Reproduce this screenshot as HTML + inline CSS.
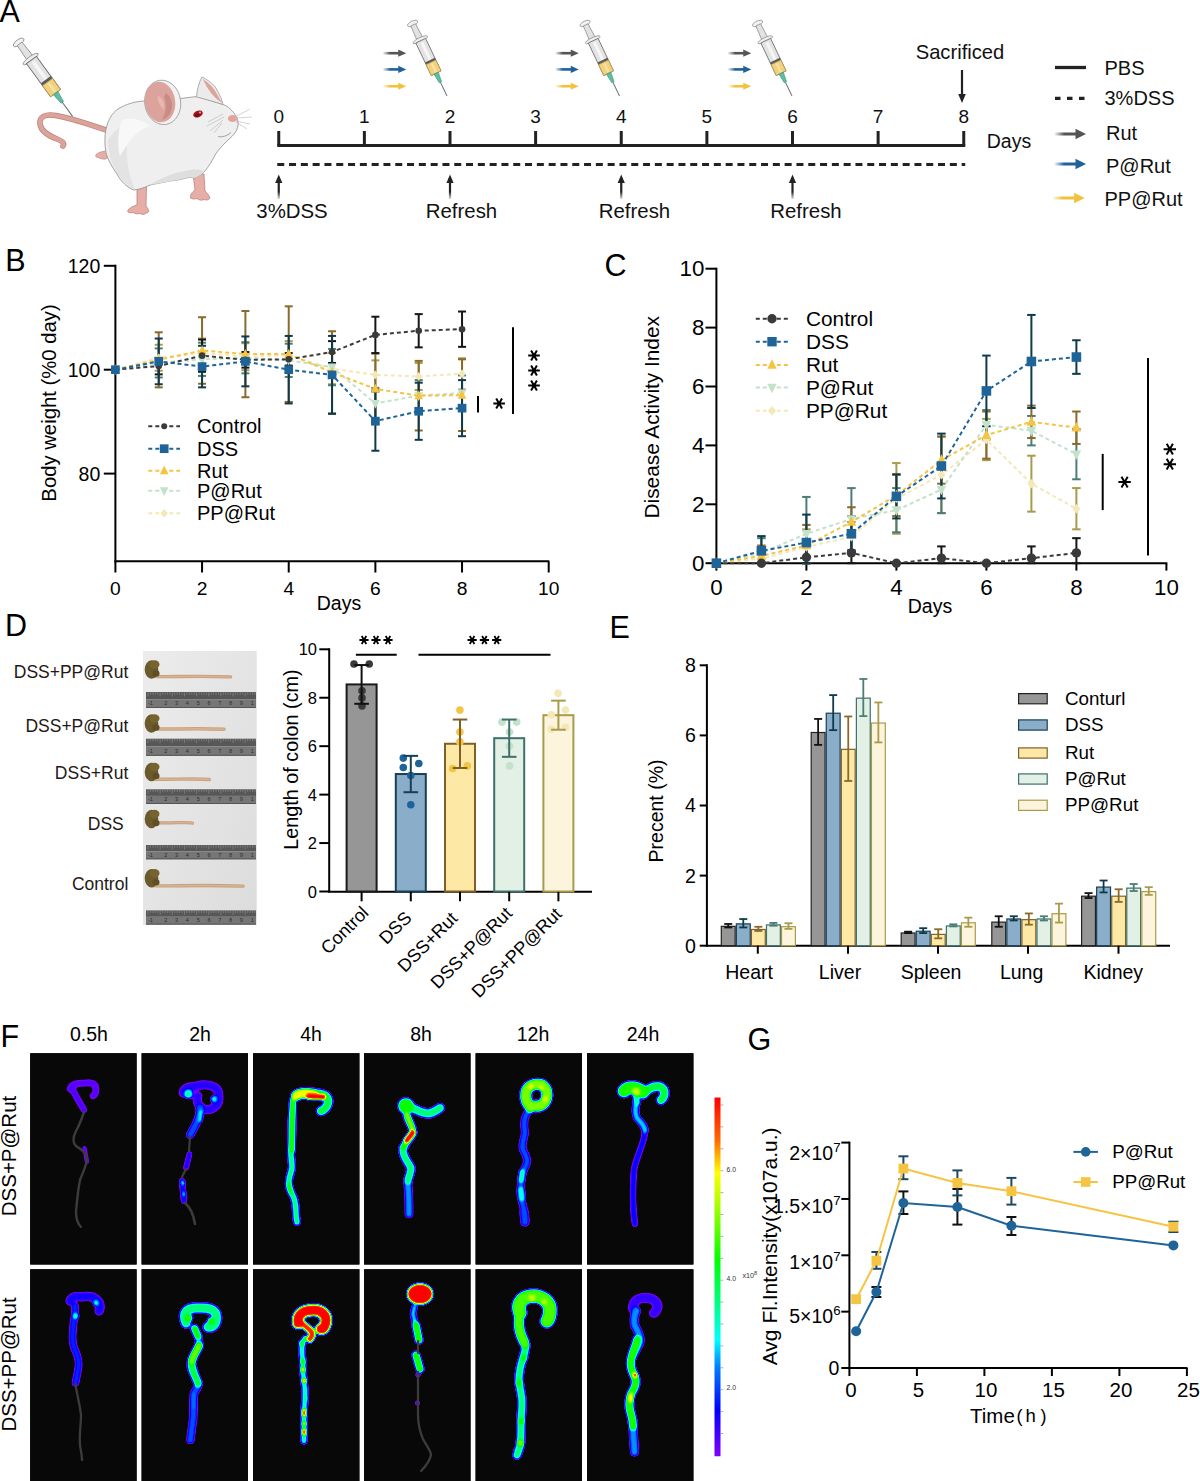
<!DOCTYPE html>
<html><head><meta charset="utf-8"><title>Figure</title>
<style>
html,body{margin:0;padding:0;background:#fff;width:1200px;height:1481px;overflow:hidden;}
svg{display:block;}
text{font-family:"Liberation Sans",sans-serif;}
</style></head><body>
<svg width="1200" height="1481" viewBox="0 0 1200 1481">
<rect x="0" y="0" width="1200" height="1481" fill="#fff"/>
<defs>
<linearGradient id="gGrey" x1="0" x2="1" y1="0" y2="0"><stop offset="0" stop-color="#555" stop-opacity="0"/><stop offset="0.45" stop-color="#555" stop-opacity="1"/></linearGradient>
<linearGradient id="gBlue" x1="0" x2="1" y1="0" y2="0"><stop offset="0" stop-color="#1f6198" stop-opacity="0"/><stop offset="0.45" stop-color="#1f6198" stop-opacity="1"/></linearGradient>
<linearGradient id="gYel" x1="0" x2="1" y1="0" y2="0"><stop offset="0" stop-color="#f0c23e" stop-opacity="0"/><stop offset="0.45" stop-color="#f0c23e" stop-opacity="1"/></linearGradient>
<linearGradient id="gArrowUp" x1="0" x2="0" y1="1" y2="0"><stop offset="0" stop-color="#222" stop-opacity="0.15"/><stop offset="0.4" stop-color="#222" stop-opacity="1"/></linearGradient>
<g id="syr">
<ellipse cx="0" cy="2" rx="5.5" ry="2.4" fill="#f2f2f2" stroke="#8a8a8a" stroke-width="0.7"/>
<path d="M-2.6,3.5 L2.6,3.5 L3.2,19 L-3.2,19 Z" fill="#e2e2e2" stroke="#8a8a8a" stroke-width="0.7"/>
<ellipse cx="0" cy="20" rx="8" ry="2.2" fill="#efefef" stroke="#8a8a8a" stroke-width="0.7"/>
<rect x="-5.4" y="21" width="10.8" height="36" fill="#e3e3e3" stroke="#6e6e6e" stroke-width="0.8"/>
<rect x="-1.2" y="23" width="3" height="32" fill="#f6f6f6"/>
<rect x="-5.4" y="42.5" width="10.8" height="2.6" fill="#5a5a5a"/>
<rect x="-5.4" y="45" width="10.8" height="12" fill="#f2d07c" stroke="#b09450" stroke-width="0.7"/>
<rect x="-1" y="46" width="2.5" height="10" fill="#f8e0a4"/>
<path d="M-2.4,57 L2.4,57 L1.3,67 L-1.3,67 Z" fill="#5cbfa2" stroke="#3a8a74" stroke-width="0.5"/>
<line x1="0" y1="67" x2="0" y2="82.3" stroke="#6a6a6a" stroke-width="0.9"/>
</g>
</defs>
<text x="-0.5" y="22.3" font-size="30.5" text-anchor="start" fill="#000" >A</text>
<line x1="277.25" y1="145.5" x2="965.25" y2="145.5" stroke="#222" stroke-width="3" />
<line x1="278.75" y1="131" x2="278.75" y2="145.5" stroke="#222" stroke-width="3" />
<text x="278.75" y="123.3" font-size="19" text-anchor="middle" fill="#111" >0</text>
<line x1="364.38" y1="131" x2="364.38" y2="145.5" stroke="#222" stroke-width="3" />
<text x="364.38" y="123.3" font-size="19" text-anchor="middle" fill="#111" >1</text>
<line x1="450" y1="131" x2="450" y2="145.5" stroke="#222" stroke-width="3" />
<text x="450" y="123.3" font-size="19" text-anchor="middle" fill="#111" >2</text>
<line x1="535.62" y1="131" x2="535.62" y2="145.5" stroke="#222" stroke-width="3" />
<text x="535.62" y="123.3" font-size="19" text-anchor="middle" fill="#111" >3</text>
<line x1="621.25" y1="131" x2="621.25" y2="145.5" stroke="#222" stroke-width="3" />
<text x="621.25" y="123.3" font-size="19" text-anchor="middle" fill="#111" >4</text>
<line x1="706.88" y1="131" x2="706.88" y2="145.5" stroke="#222" stroke-width="3" />
<text x="706.88" y="123.3" font-size="19" text-anchor="middle" fill="#111" >5</text>
<line x1="792.5" y1="131" x2="792.5" y2="145.5" stroke="#222" stroke-width="3" />
<text x="792.5" y="123.3" font-size="19" text-anchor="middle" fill="#111" >6</text>
<line x1="878.12" y1="131" x2="878.12" y2="145.5" stroke="#222" stroke-width="3" />
<text x="878.12" y="123.3" font-size="19" text-anchor="middle" fill="#111" >7</text>
<line x1="963.75" y1="131" x2="963.75" y2="145.5" stroke="#222" stroke-width="3" />
<text x="963.75" y="123.3" font-size="19" text-anchor="middle" fill="#111" >8</text>
<line x1="277.25" y1="164.5" x2="965.25" y2="164.5" stroke="#222" stroke-width="3" stroke-dasharray="7 4.8"/>
<rect x="277.65" y="181" width="2.2" height="18" fill="url(#gArrowUp)" stroke="none" stroke-width="0" />
<path d="M275.15,183 L278.75,174.5 L282.35,183 Z" fill="#222" stroke="none" stroke-width="0" />
<text x="292" y="217.6" font-size="20.4" text-anchor="middle" fill="#111" >3%DSS</text>
<rect x="448.9" y="181" width="2.2" height="18" fill="url(#gArrowUp)" stroke="none" stroke-width="0" />
<path d="M446.4,183 L450,174.5 L453.6,183 Z" fill="#222" stroke="none" stroke-width="0" />
<text x="461.5" y="217.6" font-size="20.4" text-anchor="middle" fill="#111" >Refresh</text>
<rect x="620.15" y="181" width="2.2" height="18" fill="url(#gArrowUp)" stroke="none" stroke-width="0" />
<path d="M617.65,183 L621.25,174.5 L624.85,183 Z" fill="#222" stroke="none" stroke-width="0" />
<text x="634.5" y="217.6" font-size="20.4" text-anchor="middle" fill="#111" >Refresh</text>
<rect x="791.4" y="181" width="2.2" height="18" fill="url(#gArrowUp)" stroke="none" stroke-width="0" />
<path d="M788.9,183 L792.5,174.5 L796.1,183 Z" fill="#222" stroke="none" stroke-width="0" />
<text x="806" y="217.6" font-size="20.4" text-anchor="middle" fill="#111" >Refresh</text>
<text x="960" y="58.8" font-size="20.2" text-anchor="middle" fill="#111" >Sacrificed</text>
<line x1="962" y1="70" x2="962" y2="96" stroke="#222" stroke-width="2.2" />
<path d="M958.2,94 L962,103 L965.8,94 Z" fill="#222" stroke="none" stroke-width="0" />
<text x="1009" y="147.5" font-size="19.5" text-anchor="middle" fill="#111" >Days</text>
<line x1="1055" y1="67.5" x2="1086" y2="67.5" stroke="#222" stroke-width="3.3" />
<text x="1104.5" y="75" font-size="20" text-anchor="start" fill="#111" >PBS</text>
<line x1="1055" y1="98.3" x2="1086" y2="98.3" stroke="#222" stroke-width="3.3" stroke-dasharray="5.5 6.5"/>
<text x="1104.5" y="105.3" font-size="20" text-anchor="start" fill="#111" >3%DSS</text>
<rect x="1054" y="132.5" width="22.5" height="3" fill="url(#gGrey)" stroke="none" stroke-width="0" />
<path d="M1075.5,128.7 L1086,134 L1075.5,139.3 Z" fill="#555" stroke="none" stroke-width="0" />
<text x="1106" y="139.7" font-size="20" text-anchor="start" fill="#111" >Rut</text>
<rect x="1054" y="162.5" width="22.5" height="3" fill="url(#gBlue)" stroke="none" stroke-width="0" />
<path d="M1075.5,158.7 L1086,164 L1075.5,169.3 Z" fill="#1f6198" stroke="none" stroke-width="0" />
<text x="1106" y="173.3" font-size="20" text-anchor="start" fill="#111" >P@Rut</text>
<rect x="1052" y="196.5" width="23.2" height="3" fill="url(#gYel)" stroke="none" stroke-width="0" />
<path d="M1074.2,192.7 L1084.7,198 L1074.2,203.3 Z" fill="#f0c23e" stroke="none" stroke-width="0" />
<text x="1104.5" y="206" font-size="20" text-anchor="start" fill="#111" >PP@Rut</text>
<rect x="382.5" y="51.9" width="16.75" height="2.6" fill="url(#gGrey)" stroke="none" stroke-width="0" />
<path d="M398.25,49.6 L406.25,53.2 L398.25,56.8 Z" fill="#555" stroke="none" stroke-width="0" />
<rect x="382.5" y="68.1" width="16.75" height="2.6" fill="url(#gBlue)" stroke="none" stroke-width="0" />
<path d="M398.25,65.8 L406.25,69.4 L398.25,73 Z" fill="#1f6198" stroke="none" stroke-width="0" />
<rect x="382.5" y="84.95" width="16.75" height="2.6" fill="url(#gYel)" stroke="none" stroke-width="0" />
<path d="M398.25,82.65 L406.25,86.25 L398.25,89.85 Z" fill="#f0c23e" stroke="none" stroke-width="0" />
<use href="#syr" transform="translate(411.7,21.7) rotate(-25.4)"/>
<rect x="555" y="51.9" width="16.75" height="2.6" fill="url(#gGrey)" stroke="none" stroke-width="0" />
<path d="M570.75,49.6 L578.75,53.2 L570.75,56.8 Z" fill="#555" stroke="none" stroke-width="0" />
<rect x="555" y="68.1" width="16.75" height="2.6" fill="url(#gBlue)" stroke="none" stroke-width="0" />
<path d="M570.75,65.8 L578.75,69.4 L570.75,73 Z" fill="#1f6198" stroke="none" stroke-width="0" />
<rect x="555" y="84.95" width="16.75" height="2.6" fill="url(#gYel)" stroke="none" stroke-width="0" />
<path d="M570.75,82.65 L578.75,86.25 L570.75,89.85 Z" fill="#f0c23e" stroke="none" stroke-width="0" />
<use href="#syr" transform="translate(584.2,21.7) rotate(-25.4)"/>
<rect x="727.5" y="51.9" width="16.75" height="2.6" fill="url(#gGrey)" stroke="none" stroke-width="0" />
<path d="M743.25,49.6 L751.25,53.2 L743.25,56.8 Z" fill="#555" stroke="none" stroke-width="0" />
<rect x="727.5" y="68.1" width="16.75" height="2.6" fill="url(#gBlue)" stroke="none" stroke-width="0" />
<path d="M743.25,65.8 L751.25,69.4 L743.25,73 Z" fill="#1f6198" stroke="none" stroke-width="0" />
<rect x="727.5" y="84.95" width="16.75" height="2.6" fill="url(#gYel)" stroke="none" stroke-width="0" />
<path d="M743.25,82.65 L751.25,86.25 L743.25,89.85 Z" fill="#f0c23e" stroke="none" stroke-width="0" />
<use href="#syr" transform="translate(756.7,21.7) rotate(-25.4)"/>
<path d="M109,131 C96,127 76,119 56,115.5 C45,113.5 39,117 40,124 C41,131 49,136 57,139 C62,141 65,143 63,146" fill="none" stroke="#b9827a" stroke-width="5.6" stroke-linecap="round" stroke-linejoin="round"/>
<path d="M109,131 C96,127 76,119 56,115.5 C45,113.5 39,117 40,124 C41,131 49,136 57,139 C62,141 65,143 63,146" fill="none" stroke="#dca39a" stroke-width="4.2" stroke-linecap="round" stroke-linejoin="round"/>
<path d="M108,151 C103,151 99,152 96,154.5 C95,156 96,157.5 98,157.5 C100,158.5 103,159.5 106,159 C108,158 109,155 108,151 Z" fill="#e6aea6" stroke="#b88078" stroke-width="0.6" />
<path d="M137,188 L137,205 C133,206 129,208 127.5,211 C128,213 131,213 133,212.5 C135,214 138,214 140,213.5 C142,215 145,214.5 146,213 C148.5,213 149.5,211 148,209 C147,207 146,206 146,205 L146.5,187 Z" fill="#e6aea6" stroke="#b07a72" stroke-width="0.7" />
<path d="M193,174 L195,190 C192,192 190,195 190.5,198 C192.5,199.5 195,199 197,198.5 C199,200.5 202,200.5 204,199.5 C206,200.5 209,200 210,198 C209,195 207,193 205,191 L204,174 Z" fill="#e6aea6" stroke="#b07a72" stroke-width="0.7" />
<path d="M106,129 C108,120 112,113 118,109 C126,104 136,101 146,101 C160,99 172,98 181,98.5 C188,97.5 193,97 197,96.5 L223,104.5 C228,106 233,111 236.5,116.5 C238,120 238.5,124 238,126 C237,131 234,135 228,140 C222,146 218,150 215,155 C211,163 207,169 203,173 C199,176 196,177.5 194,178 L190,177 C183,179 176,180.5 170,181 C162,182.5 155,184 150,185 C145,187.5 139,189.5 134,190 C128,188 121,182 117,174 C112,167 108,160 106,153 C104.5,145 104.5,136 106,129 Z" fill="#efefef" stroke="#9a9a9a" stroke-width="0.9" />
<path d="M108,140 C108,155 113,168 120,177 C125,184 131,188 135,189.5 C131,181 128,170 127,158 C126,146 128,132 134,120 C124,124 114,130 108,140 Z" fill="#e3e3e3" stroke="none" stroke-width="0" />
<path d="M150,185 C160,178 175,172 190,170 C198,169 203,170 204,172 C200,176 196,177.5 194,178 L190,177 C176,180.5 162,182.5 150,185 Z" fill="#dedede" stroke="none" stroke-width="0" />
<path d="M122,120 C118,130 117,145 120,156 C124,150 128,142 134,136 C140,130 146,127 150,126 C142,120 132,117 122,120 Z" fill="#f8f8f8" stroke="none" stroke-width="0" />
<ellipse cx="162.7" cy="102.4" rx="18" ry="22.3" fill="#f2f2f2" stroke="#9a9a9a" stroke-width="0.8" transform="rotate(-8 162.7 102.4)"/>
<ellipse cx="160" cy="102" rx="15.2" ry="20.3" fill="#dba39b" transform="rotate(-8 160 102)"/>
<path d="M166,93 C172,97 174,106 170,114 C168,117 165,119 162,120 C166,113 167,104 164,97 Z" fill="#c98c84" stroke="none" stroke-width="0" />
<path d="M158,96 C163,98 165,104 164,110 C160,106 157,101 158,96 Z" fill="#e8b8b0" stroke="none" stroke-width="0" />
<path d="M196.5,97 C197,90 199,82 202,77 C208,80 214,84 217,90 C220,95 222,100 223,104.5 C215,102 205,99 196.5,97 Z" fill="#ebebeb" stroke="#9a9a9a" stroke-width="0.8" />
<path d="M203,79 C209,83 214,88 217,94 C219,98 221,101 222,103 C218,100 214,97 211,93 C208,89 205,84 203,79 Z" fill="#dca39b" stroke="none" stroke-width="0" />
<ellipse cx="198" cy="114" rx="5" ry="3.3" fill="#a8101c" transform="rotate(-22 198 114)"/>
<ellipse cx="197" cy="114.8" rx="2.6" ry="1.7" fill="#7a0a14" transform="rotate(-22 198 114)"/>
<circle cx="200" cy="112.5" r="0.9" fill="#f0b8b8"/>
<ellipse cx="232.5" cy="118.5" rx="4.6" ry="3.6" fill="#e2a39e"/>
<line x1="223" y1="114" x2="208" y2="122" stroke="#a8a8a8" stroke-width="0.5" />
<line x1="224" y1="117" x2="207" y2="126" stroke="#a8a8a8" stroke-width="0.5" />
<line x1="223" y1="120" x2="210" y2="131" stroke="#a8a8a8" stroke-width="0.5" />
<line x1="222" y1="123" x2="214" y2="133" stroke="#a8a8a8" stroke-width="0.5" />
<line x1="237" y1="116" x2="250" y2="109" stroke="#a8a8a8" stroke-width="0.5" />
<line x1="237" y1="118" x2="252" y2="117" stroke="#a8a8a8" stroke-width="0.5" />
<line x1="236" y1="121" x2="250" y2="124" stroke="#a8a8a8" stroke-width="0.5" />
<line x1="236" y1="122" x2="247" y2="129" stroke="#a8a8a8" stroke-width="0.5" />
<path d="M218,136.5 C222,137.5 227,136 231,132.5" fill="none" stroke="#8a8a8a" stroke-width="0.8" />
<use href="#syr" transform="translate(17.3,40.6) rotate(-36.1) scale(1.14)"/>
<text x="5.2" y="270.6" font-size="30.5" text-anchor="start" fill="#000" >B</text>
<line x1="115.4" y1="264.8" x2="115.4" y2="562.3" stroke="#000" stroke-width="2" />
<line x1="114.4" y1="561.3" x2="549.3" y2="561.3" stroke="#000" stroke-width="2" />
<line x1="103.8" y1="265.8" x2="115.4" y2="265.8" stroke="#000" stroke-width="2" />
<text x="100.3" y="272.7" font-size="19.5" text-anchor="end" fill="#000" >120</text>
<line x1="103.8" y1="369.7" x2="115.4" y2="369.7" stroke="#000" stroke-width="2" />
<text x="100.3" y="376.6" font-size="19.5" text-anchor="end" fill="#000" >100</text>
<line x1="103.8" y1="473.6" x2="115.4" y2="473.6" stroke="#000" stroke-width="2" />
<text x="100.3" y="480.5" font-size="19.5" text-anchor="end" fill="#000" >80</text>
<line x1="115.4" y1="561.3" x2="115.4" y2="572.5" stroke="#000" stroke-width="2" />
<text x="115.4" y="595.2" font-size="19.2" text-anchor="middle" fill="#000" >0</text>
<line x1="202.06" y1="561.3" x2="202.06" y2="572.5" stroke="#000" stroke-width="2" />
<text x="202.06" y="595.2" font-size="19.2" text-anchor="middle" fill="#000" >2</text>
<line x1="288.72" y1="561.3" x2="288.72" y2="572.5" stroke="#000" stroke-width="2" />
<text x="288.72" y="595.2" font-size="19.2" text-anchor="middle" fill="#000" >4</text>
<line x1="375.38" y1="561.3" x2="375.38" y2="572.5" stroke="#000" stroke-width="2" />
<text x="375.38" y="595.2" font-size="19.2" text-anchor="middle" fill="#000" >6</text>
<line x1="462.04" y1="561.3" x2="462.04" y2="572.5" stroke="#000" stroke-width="2" />
<text x="462.04" y="595.2" font-size="19.2" text-anchor="middle" fill="#000" >8</text>
<line x1="548.7" y1="561.3" x2="548.7" y2="572.5" stroke="#000" stroke-width="2" />
<text x="548.7" y="595.2" font-size="19.2" text-anchor="middle" fill="#000" >10</text>
<text x="339" y="610" font-size="19.5" text-anchor="middle" fill="#000" >Days</text>
<text transform="translate(56,403) rotate(-90)" x="0" y="0" font-size="20.3" text-anchor="middle" fill="#000" >Body weight (%0 day)</text>
<line x1="158.73" y1="344.76" x2="158.73" y2="370.74" stroke="#a99b4b" stroke-width="2" />
<line x1="154.73" y1="344.76" x2="162.73" y2="344.76" stroke="#a99b4b" stroke-width="2" />
<line x1="154.73" y1="370.74" x2="162.73" y2="370.74" stroke="#a99b4b" stroke-width="2" />
<line x1="202.06" y1="338.53" x2="202.06" y2="367.62" stroke="#a99b4b" stroke-width="2" />
<line x1="198.06" y1="338.53" x2="206.06" y2="338.53" stroke="#a99b4b" stroke-width="2" />
<line x1="198.06" y1="367.62" x2="206.06" y2="367.62" stroke="#a99b4b" stroke-width="2" />
<line x1="245.39" y1="343.21" x2="245.39" y2="370.22" stroke="#a99b4b" stroke-width="2" />
<line x1="241.39" y1="343.21" x2="249.39" y2="343.21" stroke="#a99b4b" stroke-width="2" />
<line x1="241.39" y1="370.22" x2="249.39" y2="370.22" stroke="#a99b4b" stroke-width="2" />
<line x1="288.72" y1="341.13" x2="288.72" y2="369.18" stroke="#a99b4b" stroke-width="2" />
<line x1="284.72" y1="341.13" x2="292.72" y2="341.13" stroke="#a99b4b" stroke-width="2" />
<line x1="284.72" y1="369.18" x2="292.72" y2="369.18" stroke="#a99b4b" stroke-width="2" />
<line x1="332.05" y1="353.08" x2="332.05" y2="384.25" stroke="#a99b4b" stroke-width="2" />
<line x1="328.05" y1="353.08" x2="336.05" y2="353.08" stroke="#a99b4b" stroke-width="2" />
<line x1="328.05" y1="384.25" x2="336.05" y2="384.25" stroke="#a99b4b" stroke-width="2" />
<line x1="375.38" y1="360.35" x2="375.38" y2="389.44" stroke="#a99b4b" stroke-width="2" />
<line x1="371.38" y1="360.35" x2="379.38" y2="360.35" stroke="#a99b4b" stroke-width="2" />
<line x1="371.38" y1="389.44" x2="379.38" y2="389.44" stroke="#a99b4b" stroke-width="2" />
<line x1="418.71" y1="362.95" x2="418.71" y2="389.96" stroke="#a99b4b" stroke-width="2" />
<line x1="414.71" y1="362.95" x2="422.71" y2="362.95" stroke="#a99b4b" stroke-width="2" />
<line x1="414.71" y1="389.96" x2="422.71" y2="389.96" stroke="#a99b4b" stroke-width="2" />
<line x1="462.04" y1="358.27" x2="462.04" y2="389.44" stroke="#a99b4b" stroke-width="2" />
<line x1="458.04" y1="358.27" x2="466.04" y2="358.27" stroke="#a99b4b" stroke-width="2" />
<line x1="458.04" y1="389.44" x2="466.04" y2="389.44" stroke="#a99b4b" stroke-width="2" />
<line x1="158.73" y1="348.4" x2="158.73" y2="377.49" stroke="#4b7d76" stroke-width="2" />
<line x1="154.73" y1="348.4" x2="162.73" y2="348.4" stroke="#4b7d76" stroke-width="2" />
<line x1="154.73" y1="377.49" x2="162.73" y2="377.49" stroke="#4b7d76" stroke-width="2" />
<line x1="202.06" y1="342.69" x2="202.06" y2="375.93" stroke="#4b7d76" stroke-width="2" />
<line x1="198.06" y1="342.69" x2="206.06" y2="342.69" stroke="#4b7d76" stroke-width="2" />
<line x1="198.06" y1="375.93" x2="206.06" y2="375.93" stroke="#4b7d76" stroke-width="2" />
<line x1="245.39" y1="342.17" x2="245.39" y2="373.34" stroke="#4b7d76" stroke-width="2" />
<line x1="241.39" y1="342.17" x2="249.39" y2="342.17" stroke="#4b7d76" stroke-width="2" />
<line x1="241.39" y1="373.34" x2="249.39" y2="373.34" stroke="#4b7d76" stroke-width="2" />
<line x1="288.72" y1="343.72" x2="288.72" y2="376.97" stroke="#4b7d76" stroke-width="2" />
<line x1="284.72" y1="343.72" x2="292.72" y2="343.72" stroke="#4b7d76" stroke-width="2" />
<line x1="284.72" y1="376.97" x2="292.72" y2="376.97" stroke="#4b7d76" stroke-width="2" />
<line x1="332.05" y1="348.92" x2="332.05" y2="385.28" stroke="#4b7d76" stroke-width="2" />
<line x1="328.05" y1="348.92" x2="336.05" y2="348.92" stroke="#4b7d76" stroke-width="2" />
<line x1="328.05" y1="385.28" x2="336.05" y2="385.28" stroke="#4b7d76" stroke-width="2" />
<line x1="375.38" y1="387.88" x2="375.38" y2="419.05" stroke="#4b7d76" stroke-width="2" />
<line x1="371.38" y1="387.88" x2="379.38" y2="387.88" stroke="#4b7d76" stroke-width="2" />
<line x1="371.38" y1="419.05" x2="379.38" y2="419.05" stroke="#4b7d76" stroke-width="2" />
<line x1="418.71" y1="380.09" x2="418.71" y2="411.26" stroke="#4b7d76" stroke-width="2" />
<line x1="414.71" y1="380.09" x2="422.71" y2="380.09" stroke="#4b7d76" stroke-width="2" />
<line x1="414.71" y1="411.26" x2="422.71" y2="411.26" stroke="#4b7d76" stroke-width="2" />
<line x1="462.04" y1="375.41" x2="462.04" y2="410.74" stroke="#4b7d76" stroke-width="2" />
<line x1="458.04" y1="375.41" x2="466.04" y2="375.41" stroke="#4b7d76" stroke-width="2" />
<line x1="458.04" y1="410.74" x2="466.04" y2="410.74" stroke="#4b7d76" stroke-width="2" />
<line x1="158.73" y1="332.3" x2="158.73" y2="387.36" stroke="#8a6a2a" stroke-width="2" />
<line x1="154.73" y1="332.3" x2="162.73" y2="332.3" stroke="#8a6a2a" stroke-width="2" />
<line x1="154.73" y1="387.36" x2="162.73" y2="387.36" stroke="#8a6a2a" stroke-width="2" />
<line x1="202.06" y1="317.23" x2="202.06" y2="383.73" stroke="#8a6a2a" stroke-width="2" />
<line x1="198.06" y1="317.23" x2="206.06" y2="317.23" stroke="#8a6a2a" stroke-width="2" />
<line x1="198.06" y1="383.73" x2="206.06" y2="383.73" stroke="#8a6a2a" stroke-width="2" />
<line x1="245.39" y1="311" x2="245.39" y2="397.23" stroke="#8a6a2a" stroke-width="2" />
<line x1="241.39" y1="311" x2="249.39" y2="311" stroke="#8a6a2a" stroke-width="2" />
<line x1="241.39" y1="397.23" x2="249.39" y2="397.23" stroke="#8a6a2a" stroke-width="2" />
<line x1="288.72" y1="306.32" x2="288.72" y2="401.91" stroke="#8a6a2a" stroke-width="2" />
<line x1="284.72" y1="306.32" x2="292.72" y2="306.32" stroke="#8a6a2a" stroke-width="2" />
<line x1="284.72" y1="401.91" x2="292.72" y2="401.91" stroke="#8a6a2a" stroke-width="2" />
<line x1="332.05" y1="331.26" x2="332.05" y2="413.34" stroke="#8a6a2a" stroke-width="2" />
<line x1="328.05" y1="331.26" x2="336.05" y2="331.26" stroke="#8a6a2a" stroke-width="2" />
<line x1="328.05" y1="413.34" x2="336.05" y2="413.34" stroke="#8a6a2a" stroke-width="2" />
<line x1="375.38" y1="353.6" x2="375.38" y2="424.25" stroke="#8a6a2a" stroke-width="2" />
<line x1="371.38" y1="353.6" x2="379.38" y2="353.6" stroke="#8a6a2a" stroke-width="2" />
<line x1="371.38" y1="424.25" x2="379.38" y2="424.25" stroke="#8a6a2a" stroke-width="2" />
<line x1="418.71" y1="360.87" x2="418.71" y2="430.48" stroke="#8a6a2a" stroke-width="2" />
<line x1="414.71" y1="360.87" x2="422.71" y2="360.87" stroke="#8a6a2a" stroke-width="2" />
<line x1="414.71" y1="430.48" x2="422.71" y2="430.48" stroke="#8a6a2a" stroke-width="2" />
<line x1="462.04" y1="359.31" x2="462.04" y2="431" stroke="#8a6a2a" stroke-width="2" />
<line x1="458.04" y1="359.31" x2="466.04" y2="359.31" stroke="#8a6a2a" stroke-width="2" />
<line x1="458.04" y1="431" x2="466.04" y2="431" stroke="#8a6a2a" stroke-width="2" />
<line x1="158.73" y1="357.75" x2="158.73" y2="374.38" stroke="#161616" stroke-width="2" />
<line x1="154.73" y1="357.75" x2="162.73" y2="357.75" stroke="#161616" stroke-width="2" />
<line x1="154.73" y1="374.38" x2="162.73" y2="374.38" stroke="#161616" stroke-width="2" />
<line x1="202.06" y1="339.57" x2="202.06" y2="371.78" stroke="#161616" stroke-width="2" />
<line x1="198.06" y1="339.57" x2="206.06" y2="339.57" stroke="#161616" stroke-width="2" />
<line x1="198.06" y1="371.78" x2="206.06" y2="371.78" stroke="#161616" stroke-width="2" />
<line x1="245.39" y1="352.04" x2="245.39" y2="367.62" stroke="#161616" stroke-width="2" />
<line x1="241.39" y1="352.04" x2="249.39" y2="352.04" stroke="#161616" stroke-width="2" />
<line x1="241.39" y1="367.62" x2="249.39" y2="367.62" stroke="#161616" stroke-width="2" />
<line x1="288.72" y1="353.08" x2="288.72" y2="365.54" stroke="#161616" stroke-width="2" />
<line x1="284.72" y1="353.08" x2="292.72" y2="353.08" stroke="#161616" stroke-width="2" />
<line x1="284.72" y1="365.54" x2="292.72" y2="365.54" stroke="#161616" stroke-width="2" />
<line x1="332.05" y1="341.13" x2="332.05" y2="362.95" stroke="#161616" stroke-width="2" />
<line x1="328.05" y1="341.13" x2="336.05" y2="341.13" stroke="#161616" stroke-width="2" />
<line x1="328.05" y1="362.95" x2="336.05" y2="362.95" stroke="#161616" stroke-width="2" />
<line x1="375.38" y1="316.71" x2="375.38" y2="353.08" stroke="#161616" stroke-width="2" />
<line x1="371.38" y1="316.71" x2="379.38" y2="316.71" stroke="#161616" stroke-width="2" />
<line x1="371.38" y1="353.08" x2="379.38" y2="353.08" stroke="#161616" stroke-width="2" />
<line x1="418.71" y1="314.11" x2="418.71" y2="347.36" stroke="#161616" stroke-width="2" />
<line x1="414.71" y1="314.11" x2="422.71" y2="314.11" stroke="#161616" stroke-width="2" />
<line x1="414.71" y1="347.36" x2="422.71" y2="347.36" stroke="#161616" stroke-width="2" />
<line x1="462.04" y1="311.52" x2="462.04" y2="346.84" stroke="#161616" stroke-width="2" />
<line x1="458.04" y1="311.52" x2="466.04" y2="311.52" stroke="#161616" stroke-width="2" />
<line x1="458.04" y1="346.84" x2="466.04" y2="346.84" stroke="#161616" stroke-width="2" />
<line x1="158.73" y1="338.53" x2="158.73" y2="384.25" stroke="#0f3a4c" stroke-width="2" />
<line x1="154.73" y1="338.53" x2="162.73" y2="338.53" stroke="#0f3a4c" stroke-width="2" />
<line x1="154.73" y1="384.25" x2="162.73" y2="384.25" stroke="#0f3a4c" stroke-width="2" />
<line x1="202.06" y1="345.8" x2="202.06" y2="387.36" stroke="#0f3a4c" stroke-width="2" />
<line x1="198.06" y1="345.8" x2="206.06" y2="345.8" stroke="#0f3a4c" stroke-width="2" />
<line x1="198.06" y1="387.36" x2="206.06" y2="387.36" stroke="#0f3a4c" stroke-width="2" />
<line x1="245.39" y1="336.45" x2="245.39" y2="386.32" stroke="#0f3a4c" stroke-width="2" />
<line x1="241.39" y1="336.45" x2="249.39" y2="336.45" stroke="#0f3a4c" stroke-width="2" />
<line x1="241.39" y1="386.32" x2="249.39" y2="386.32" stroke="#0f3a4c" stroke-width="2" />
<line x1="288.72" y1="335.93" x2="288.72" y2="403.47" stroke="#0f3a4c" stroke-width="2" />
<line x1="284.72" y1="335.93" x2="292.72" y2="335.93" stroke="#0f3a4c" stroke-width="2" />
<line x1="284.72" y1="403.47" x2="292.72" y2="403.47" stroke="#0f3a4c" stroke-width="2" />
<line x1="332.05" y1="335.93" x2="332.05" y2="413.86" stroke="#0f3a4c" stroke-width="2" />
<line x1="328.05" y1="335.93" x2="336.05" y2="335.93" stroke="#0f3a4c" stroke-width="2" />
<line x1="328.05" y1="413.86" x2="336.05" y2="413.86" stroke="#0f3a4c" stroke-width="2" />
<line x1="375.38" y1="391.52" x2="375.38" y2="450.74" stroke="#0f3a4c" stroke-width="2" />
<line x1="371.38" y1="391.52" x2="379.38" y2="391.52" stroke="#0f3a4c" stroke-width="2" />
<line x1="371.38" y1="450.74" x2="379.38" y2="450.74" stroke="#0f3a4c" stroke-width="2" />
<line x1="418.71" y1="382.69" x2="418.71" y2="439.83" stroke="#0f3a4c" stroke-width="2" />
<line x1="414.71" y1="382.69" x2="422.71" y2="382.69" stroke="#0f3a4c" stroke-width="2" />
<line x1="414.71" y1="439.83" x2="422.71" y2="439.83" stroke="#0f3a4c" stroke-width="2" />
<line x1="462.04" y1="380.09" x2="462.04" y2="436.2" stroke="#0f3a4c" stroke-width="2" />
<line x1="458.04" y1="380.09" x2="466.04" y2="380.09" stroke="#0f3a4c" stroke-width="2" />
<line x1="458.04" y1="436.2" x2="466.04" y2="436.2" stroke="#0f3a4c" stroke-width="2" />
<path d="M115.4,369.7 L158.73,357.75 L202.06,353.08 L245.39,356.71 L288.72,355.15 L332.05,368.66 L375.38,374.89 L418.71,376.45 L462.04,373.86" fill="none" stroke="#f4e8b8" stroke-width="2" stroke-dasharray="4 3"/>
<path d="M115.4,369.7 L158.73,362.95 L202.06,359.31 L245.39,357.75 L288.72,360.35 L332.05,367.1 L375.38,403.47 L418.71,395.68 L462.04,393.08" fill="none" stroke="#c3e2ca" stroke-width="2" stroke-dasharray="4 3"/>
<path d="M115.4,369.7 L158.73,359.83 L202.06,350.48 L245.39,354.12 L288.72,354.12 L332.05,372.3 L375.38,388.92 L418.71,395.68 L462.04,395.16" fill="none" stroke="#f6c443" stroke-width="2" stroke-dasharray="4 3"/>
<path d="M115.4,369.7 L158.73,366.06 L202.06,355.67 L245.39,359.83 L288.72,359.31 L332.05,352.04 L375.38,334.89 L418.71,330.74 L462.04,329.18" fill="none" stroke="#3a3a3a" stroke-width="2" stroke-dasharray="4 3"/>
<path d="M115.4,369.7 L158.73,361.39 L202.06,366.58 L245.39,361.39 L288.72,369.7 L332.05,374.89 L375.38,421.13 L418.71,411.26 L462.04,408.14" fill="none" stroke="#1f6499" stroke-width="2" stroke-dasharray="4 3"/>
<path d="M115.4,365.35 L119.14,369.7 L115.4,374.05 L111.66,369.7 Z" fill="#f4e8b8" stroke="none" stroke-width="0" />
<path d="M158.73,353.4 L162.47,357.75 L158.73,362.1 L154.99,357.75 Z" fill="#f4e8b8" stroke="none" stroke-width="0" />
<path d="M202.06,348.73 L205.8,353.08 L202.06,357.43 L198.32,353.08 Z" fill="#f4e8b8" stroke="none" stroke-width="0" />
<path d="M245.39,352.36 L249.13,356.71 L245.39,361.06 L241.65,356.71 Z" fill="#f4e8b8" stroke="none" stroke-width="0" />
<path d="M288.72,350.8 L292.46,355.15 L288.72,359.5 L284.98,355.15 Z" fill="#f4e8b8" stroke="none" stroke-width="0" />
<path d="M332.05,364.31 L335.79,368.66 L332.05,373.01 L328.31,368.66 Z" fill="#f4e8b8" stroke="none" stroke-width="0" />
<path d="M375.38,370.54 L379.12,374.89 L375.38,379.25 L371.64,374.89 Z" fill="#f4e8b8" stroke="none" stroke-width="0" />
<path d="M418.71,372.1 L422.45,376.45 L418.71,380.8 L414.97,376.45 Z" fill="#f4e8b8" stroke="none" stroke-width="0" />
<path d="M462.04,369.51 L465.78,373.86 L462.04,378.21 L458.3,373.86 Z" fill="#f4e8b8" stroke="none" stroke-width="0" />
<path d="M115.4,374.92 L119.75,366.22 L111.05,366.22 Z" fill="#c3e2ca" stroke="none" stroke-width="0" />
<path d="M158.73,368.17 L163.08,359.47 L154.38,359.47 Z" fill="#c3e2ca" stroke="none" stroke-width="0" />
<path d="M202.06,364.53 L206.41,355.83 L197.71,355.83 Z" fill="#c3e2ca" stroke="none" stroke-width="0" />
<path d="M245.39,362.97 L249.74,354.27 L241.04,354.27 Z" fill="#c3e2ca" stroke="none" stroke-width="0" />
<path d="M288.72,365.57 L293.07,356.87 L284.37,356.87 Z" fill="#c3e2ca" stroke="none" stroke-width="0" />
<path d="M332.05,372.32 L336.4,363.62 L327.7,363.62 Z" fill="#c3e2ca" stroke="none" stroke-width="0" />
<path d="M375.38,408.69 L379.73,399.99 L371.03,399.99 Z" fill="#c3e2ca" stroke="none" stroke-width="0" />
<path d="M418.71,400.9 L423.06,392.19 L414.36,392.19 Z" fill="#c3e2ca" stroke="none" stroke-width="0" />
<path d="M462.04,398.3 L466.39,389.6 L457.69,389.6 Z" fill="#c3e2ca" stroke="none" stroke-width="0" />
<path d="M115.4,364.48 L119.75,373.18 L111.05,373.18 Z" fill="#f6c443" stroke="none" stroke-width="0" />
<path d="M158.73,354.61 L163.08,363.31 L154.38,363.31 Z" fill="#f6c443" stroke="none" stroke-width="0" />
<path d="M202.06,345.26 L206.41,353.96 L197.71,353.96 Z" fill="#f6c443" stroke="none" stroke-width="0" />
<path d="M245.39,348.89 L249.74,357.6 L241.04,357.6 Z" fill="#f6c443" stroke="none" stroke-width="0" />
<path d="M288.72,348.89 L293.07,357.6 L284.37,357.6 Z" fill="#f6c443" stroke="none" stroke-width="0" />
<path d="M332.05,367.08 L336.4,375.78 L327.7,375.78 Z" fill="#f6c443" stroke="none" stroke-width="0" />
<path d="M375.38,383.7 L379.73,392.4 L371.03,392.4 Z" fill="#f6c443" stroke="none" stroke-width="0" />
<path d="M418.71,390.45 L423.06,399.16 L414.36,399.16 Z" fill="#f6c443" stroke="none" stroke-width="0" />
<path d="M462.04,389.94 L466.39,398.64 L457.69,398.64 Z" fill="#f6c443" stroke="none" stroke-width="0" />
<circle cx="115.4" cy="369.7" r="3.3" fill="#3a3a3a" />
<circle cx="158.73" cy="366.06" r="3.3" fill="#3a3a3a" />
<circle cx="202.06" cy="355.67" r="3.3" fill="#3a3a3a" />
<circle cx="245.39" cy="359.83" r="3.3" fill="#3a3a3a" />
<circle cx="288.72" cy="359.31" r="3.3" fill="#3a3a3a" />
<circle cx="332.05" cy="352.04" r="3.3" fill="#3a3a3a" />
<circle cx="375.38" cy="334.89" r="3.3" fill="#3a3a3a" />
<circle cx="418.71" cy="330.74" r="3.3" fill="#3a3a3a" />
<circle cx="462.04" cy="329.18" r="3.3" fill="#3a3a3a" />
<rect x="111.05" y="365.35" width="8.7" height="8.7" fill="#1f6499" stroke="none" stroke-width="0" />
<rect x="154.38" y="357.04" width="8.7" height="8.7" fill="#1f6499" stroke="none" stroke-width="0" />
<rect x="197.71" y="362.23" width="8.7" height="8.7" fill="#1f6499" stroke="none" stroke-width="0" />
<rect x="241.04" y="357.04" width="8.7" height="8.7" fill="#1f6499" stroke="none" stroke-width="0" />
<rect x="284.37" y="365.35" width="8.7" height="8.7" fill="#1f6499" stroke="none" stroke-width="0" />
<rect x="327.7" y="370.54" width="8.7" height="8.7" fill="#1f6499" stroke="none" stroke-width="0" />
<rect x="371.03" y="416.78" width="8.7" height="8.7" fill="#1f6499" stroke="none" stroke-width="0" />
<rect x="414.36" y="406.91" width="8.7" height="8.7" fill="#1f6499" stroke="none" stroke-width="0" />
<rect x="457.69" y="403.79" width="8.7" height="8.7" fill="#1f6499" stroke="none" stroke-width="0" />
<line x1="148.3" y1="426.2" x2="180" y2="426.2" stroke="#3a3a3a" stroke-width="2" stroke-dasharray="4 3"/>
<circle cx="164.2" cy="426.2" r="3" fill="#3a3a3a" />
<text x="197" y="433.1" font-size="20" text-anchor="start" fill="#000" >Control</text>
<line x1="148.3" y1="448.7" x2="180" y2="448.7" stroke="#1f6499" stroke-width="2" stroke-dasharray="4 3"/>
<rect x="159.85" y="444.35" width="8.7" height="8.7" fill="#1f6499" stroke="none" stroke-width="0" />
<text x="197" y="455.6" font-size="20" text-anchor="start" fill="#000" >DSS</text>
<line x1="148.3" y1="470.8" x2="180" y2="470.8" stroke="#f6c443" stroke-width="2" stroke-dasharray="4 3"/>
<path d="M164.2,465.58 L168.55,474.28 L159.85,474.28 Z" fill="#f6c443" stroke="none" stroke-width="0" />
<text x="197" y="477.7" font-size="20" text-anchor="start" fill="#000" >Rut</text>
<line x1="148.3" y1="490.8" x2="180" y2="490.8" stroke="#c3e2ca" stroke-width="2" stroke-dasharray="4 3"/>
<path d="M164.2,496.02 L168.55,487.32 L159.85,487.32 Z" fill="#c3e2ca" stroke="none" stroke-width="0" />
<text x="197" y="497.7" font-size="20" text-anchor="start" fill="#000" >P@Rut</text>
<line x1="148.3" y1="513.3" x2="180" y2="513.3" stroke="#f4e8b8" stroke-width="2" stroke-dasharray="4 3"/>
<path d="M164.2,508.95 L167.94,513.3 L164.2,517.65 L160.46,513.3 Z" fill="#f4e8b8" stroke="none" stroke-width="0" />
<text x="197" y="520.2" font-size="20" text-anchor="start" fill="#000" >PP@Rut</text>
<line x1="478" y1="396" x2="478" y2="412.4" stroke="#000" stroke-width="2" />
<path d="M493.3,403.5 L504.9,403.5 M496.2,398.48 L502,408.52 M502,398.48 L496.2,408.52 " fill="none" stroke="#000" stroke-width="2" />
<line x1="513" y1="327.3" x2="513" y2="414" stroke="#000" stroke-width="2" />
<path d="M528.2,355.5 L539.8,355.5 M531.1,350.48 L536.9,360.52 M536.9,350.48 L531.1,360.52 " fill="none" stroke="#000" stroke-width="2" />
<path d="M528.2,370.5 L539.8,370.5 M531.1,365.48 L536.9,375.52 M536.9,365.48 L531.1,375.52 " fill="none" stroke="#000" stroke-width="2" />
<path d="M528.2,385.4 L539.8,385.4 M531.1,380.38 L536.9,390.42 M536.9,380.38 L531.1,390.42 " fill="none" stroke="#000" stroke-width="2" />
<text x="604.5" y="275.8" font-size="30.5" text-anchor="start" fill="#000" >C</text>
<line x1="716.4" y1="267.7" x2="716.4" y2="564.2" stroke="#000" stroke-width="2" />
<line x1="715.4" y1="563.2" x2="1167.3" y2="563.2" stroke="#000" stroke-width="2" />
<line x1="705.5" y1="563.2" x2="716.4" y2="563.2" stroke="#000" stroke-width="2" />
<text x="704.3" y="570.5" font-size="22.3" text-anchor="end" fill="#000" >0</text>
<line x1="705.5" y1="504.3" x2="716.4" y2="504.3" stroke="#000" stroke-width="2" />
<text x="704.3" y="511.6" font-size="22.3" text-anchor="end" fill="#000" >2</text>
<line x1="705.5" y1="445.4" x2="716.4" y2="445.4" stroke="#000" stroke-width="2" />
<text x="704.3" y="452.7" font-size="22.3" text-anchor="end" fill="#000" >4</text>
<line x1="705.5" y1="386.5" x2="716.4" y2="386.5" stroke="#000" stroke-width="2" />
<text x="704.3" y="393.8" font-size="22.3" text-anchor="end" fill="#000" >6</text>
<line x1="705.5" y1="327.6" x2="716.4" y2="327.6" stroke="#000" stroke-width="2" />
<text x="704.3" y="334.9" font-size="22.3" text-anchor="end" fill="#000" >8</text>
<line x1="705.5" y1="268.7" x2="716.4" y2="268.7" stroke="#000" stroke-width="2" />
<text x="704.3" y="276" font-size="22.3" text-anchor="end" fill="#000" >10</text>
<line x1="716.4" y1="563.2" x2="716.4" y2="570.6" stroke="#000" stroke-width="2" />
<text x="716.4" y="595" font-size="22.3" text-anchor="middle" fill="#000" >0</text>
<line x1="806.4" y1="563.2" x2="806.4" y2="570.6" stroke="#000" stroke-width="2" />
<text x="806.4" y="595" font-size="22.3" text-anchor="middle" fill="#000" >2</text>
<line x1="896.4" y1="563.2" x2="896.4" y2="570.6" stroke="#000" stroke-width="2" />
<text x="896.4" y="595" font-size="22.3" text-anchor="middle" fill="#000" >4</text>
<line x1="986.4" y1="563.2" x2="986.4" y2="570.6" stroke="#000" stroke-width="2" />
<text x="986.4" y="595" font-size="22.3" text-anchor="middle" fill="#000" >6</text>
<line x1="1076.4" y1="563.2" x2="1076.4" y2="570.6" stroke="#000" stroke-width="2" />
<text x="1076.4" y="595" font-size="22.3" text-anchor="middle" fill="#000" >8</text>
<line x1="1166.4" y1="563.2" x2="1166.4" y2="570.6" stroke="#000" stroke-width="2" />
<text x="1166.4" y="595" font-size="22.3" text-anchor="middle" fill="#000" >10</text>
<text x="930" y="613.3" font-size="19.5" text-anchor="middle" fill="#000" >Days</text>
<text transform="translate(659,417.3) rotate(-90)" x="0" y="0" font-size="20.8" text-anchor="middle" fill="#000" >Disease Activity Index</text>
<line x1="761.4" y1="549.95" x2="761.4" y2="563.2" stroke="#a99b4b" stroke-width="2" />
<line x1="757.15" y1="549.95" x2="765.65" y2="549.95" stroke="#a99b4b" stroke-width="2" />
<line x1="757.15" y1="563.2" x2="765.65" y2="563.2" stroke="#a99b4b" stroke-width="2" />
<line x1="806.4" y1="529.33" x2="806.4" y2="563.2" stroke="#a99b4b" stroke-width="2" />
<line x1="802.15" y1="529.33" x2="810.65" y2="529.33" stroke="#a99b4b" stroke-width="2" />
<line x1="802.15" y1="563.2" x2="810.65" y2="563.2" stroke="#a99b4b" stroke-width="2" />
<line x1="851.4" y1="521.97" x2="851.4" y2="551.42" stroke="#a99b4b" stroke-width="2" />
<line x1="847.15" y1="521.97" x2="855.65" y2="521.97" stroke="#a99b4b" stroke-width="2" />
<line x1="847.15" y1="551.42" x2="855.65" y2="551.42" stroke="#a99b4b" stroke-width="2" />
<line x1="896.4" y1="463.07" x2="896.4" y2="533.75" stroke="#a99b4b" stroke-width="2" />
<line x1="892.15" y1="463.07" x2="900.65" y2="463.07" stroke="#a99b4b" stroke-width="2" />
<line x1="892.15" y1="533.75" x2="900.65" y2="533.75" stroke="#a99b4b" stroke-width="2" />
<line x1="941.4" y1="436.57" x2="941.4" y2="513.13" stroke="#a99b4b" stroke-width="2" />
<line x1="937.15" y1="436.57" x2="945.65" y2="436.57" stroke="#a99b4b" stroke-width="2" />
<line x1="937.15" y1="513.13" x2="945.65" y2="513.13" stroke="#a99b4b" stroke-width="2" />
<line x1="986.4" y1="418.9" x2="986.4" y2="460.13" stroke="#a99b4b" stroke-width="2" />
<line x1="982.15" y1="418.9" x2="990.65" y2="418.9" stroke="#a99b4b" stroke-width="2" />
<line x1="982.15" y1="460.13" x2="990.65" y2="460.13" stroke="#a99b4b" stroke-width="2" />
<line x1="1031.4" y1="455.71" x2="1031.4" y2="511.66" stroke="#a99b4b" stroke-width="2" />
<line x1="1027.15" y1="455.71" x2="1035.65" y2="455.71" stroke="#a99b4b" stroke-width="2" />
<line x1="1027.15" y1="511.66" x2="1035.65" y2="511.66" stroke="#a99b4b" stroke-width="2" />
<line x1="1076.4" y1="488.1" x2="1076.4" y2="529.33" stroke="#a99b4b" stroke-width="2" />
<line x1="1072.15" y1="488.1" x2="1080.65" y2="488.1" stroke="#a99b4b" stroke-width="2" />
<line x1="1072.15" y1="529.33" x2="1080.65" y2="529.33" stroke="#a99b4b" stroke-width="2" />
<line x1="761.4" y1="538.17" x2="761.4" y2="563.2" stroke="#4b7d76" stroke-width="2" />
<line x1="757.15" y1="538.17" x2="765.65" y2="538.17" stroke="#4b7d76" stroke-width="2" />
<line x1="757.15" y1="563.2" x2="765.65" y2="563.2" stroke="#4b7d76" stroke-width="2" />
<line x1="806.4" y1="496.94" x2="806.4" y2="563.2" stroke="#4b7d76" stroke-width="2" />
<line x1="802.15" y1="496.94" x2="810.65" y2="496.94" stroke="#4b7d76" stroke-width="2" />
<line x1="802.15" y1="563.2" x2="810.65" y2="563.2" stroke="#4b7d76" stroke-width="2" />
<line x1="851.4" y1="488.1" x2="851.4" y2="549.95" stroke="#4b7d76" stroke-width="2" />
<line x1="847.15" y1="488.1" x2="855.65" y2="488.1" stroke="#4b7d76" stroke-width="2" />
<line x1="847.15" y1="549.95" x2="855.65" y2="549.95" stroke="#4b7d76" stroke-width="2" />
<line x1="896.4" y1="488.1" x2="896.4" y2="532.28" stroke="#4b7d76" stroke-width="2" />
<line x1="892.15" y1="488.1" x2="900.65" y2="488.1" stroke="#4b7d76" stroke-width="2" />
<line x1="892.15" y1="532.28" x2="900.65" y2="532.28" stroke="#4b7d76" stroke-width="2" />
<line x1="941.4" y1="466.02" x2="941.4" y2="513.13" stroke="#4b7d76" stroke-width="2" />
<line x1="937.15" y1="466.02" x2="945.65" y2="466.02" stroke="#4b7d76" stroke-width="2" />
<line x1="937.15" y1="513.13" x2="945.65" y2="513.13" stroke="#4b7d76" stroke-width="2" />
<line x1="986.4" y1="410.06" x2="986.4" y2="439.51" stroke="#4b7d76" stroke-width="2" />
<line x1="982.15" y1="410.06" x2="990.65" y2="410.06" stroke="#4b7d76" stroke-width="2" />
<line x1="982.15" y1="439.51" x2="990.65" y2="439.51" stroke="#4b7d76" stroke-width="2" />
<line x1="1031.4" y1="415.95" x2="1031.4" y2="445.4" stroke="#4b7d76" stroke-width="2" />
<line x1="1027.15" y1="415.95" x2="1035.65" y2="415.95" stroke="#4b7d76" stroke-width="2" />
<line x1="1027.15" y1="445.4" x2="1035.65" y2="445.4" stroke="#4b7d76" stroke-width="2" />
<line x1="1076.4" y1="429.2" x2="1076.4" y2="479.27" stroke="#4b7d76" stroke-width="2" />
<line x1="1072.15" y1="429.2" x2="1080.65" y2="429.2" stroke="#4b7d76" stroke-width="2" />
<line x1="1072.15" y1="479.27" x2="1080.65" y2="479.27" stroke="#4b7d76" stroke-width="2" />
<line x1="761.4" y1="545.53" x2="761.4" y2="563.2" stroke="#8a6a2a" stroke-width="2" />
<line x1="757.15" y1="545.53" x2="765.65" y2="545.53" stroke="#8a6a2a" stroke-width="2" />
<line x1="757.15" y1="563.2" x2="765.65" y2="563.2" stroke="#8a6a2a" stroke-width="2" />
<line x1="806.4" y1="524.92" x2="806.4" y2="563.2" stroke="#8a6a2a" stroke-width="2" />
<line x1="802.15" y1="524.92" x2="810.65" y2="524.92" stroke="#8a6a2a" stroke-width="2" />
<line x1="802.15" y1="563.2" x2="810.65" y2="563.2" stroke="#8a6a2a" stroke-width="2" />
<line x1="851.4" y1="507.25" x2="851.4" y2="536.7" stroke="#8a6a2a" stroke-width="2" />
<line x1="847.15" y1="507.25" x2="855.65" y2="507.25" stroke="#8a6a2a" stroke-width="2" />
<line x1="847.15" y1="536.7" x2="855.65" y2="536.7" stroke="#8a6a2a" stroke-width="2" />
<line x1="896.4" y1="474.85" x2="896.4" y2="516.08" stroke="#8a6a2a" stroke-width="2" />
<line x1="892.15" y1="474.85" x2="900.65" y2="474.85" stroke="#8a6a2a" stroke-width="2" />
<line x1="892.15" y1="516.08" x2="900.65" y2="516.08" stroke="#8a6a2a" stroke-width="2" />
<line x1="941.4" y1="436.57" x2="941.4" y2="483.69" stroke="#8a6a2a" stroke-width="2" />
<line x1="937.15" y1="436.57" x2="945.65" y2="436.57" stroke="#8a6a2a" stroke-width="2" />
<line x1="937.15" y1="483.69" x2="945.65" y2="483.69" stroke="#8a6a2a" stroke-width="2" />
<line x1="986.4" y1="411.53" x2="986.4" y2="458.65" stroke="#8a6a2a" stroke-width="2" />
<line x1="982.15" y1="411.53" x2="990.65" y2="411.53" stroke="#8a6a2a" stroke-width="2" />
<line x1="982.15" y1="458.65" x2="990.65" y2="458.65" stroke="#8a6a2a" stroke-width="2" />
<line x1="1031.4" y1="405.64" x2="1031.4" y2="438.04" stroke="#8a6a2a" stroke-width="2" />
<line x1="1027.15" y1="405.64" x2="1035.65" y2="405.64" stroke="#8a6a2a" stroke-width="2" />
<line x1="1027.15" y1="438.04" x2="1035.65" y2="438.04" stroke="#8a6a2a" stroke-width="2" />
<line x1="1076.4" y1="411.53" x2="1076.4" y2="443.93" stroke="#8a6a2a" stroke-width="2" />
<line x1="1072.15" y1="411.53" x2="1080.65" y2="411.53" stroke="#8a6a2a" stroke-width="2" />
<line x1="1072.15" y1="443.93" x2="1080.65" y2="443.93" stroke="#8a6a2a" stroke-width="2" />
<line x1="806.4" y1="545.53" x2="806.4" y2="563.2" stroke="#161616" stroke-width="2" />
<line x1="802.15" y1="545.53" x2="810.65" y2="545.53" stroke="#161616" stroke-width="2" />
<line x1="802.15" y1="563.2" x2="810.65" y2="563.2" stroke="#161616" stroke-width="2" />
<line x1="851.4" y1="536.7" x2="851.4" y2="563.2" stroke="#161616" stroke-width="2" />
<line x1="847.15" y1="536.7" x2="855.65" y2="536.7" stroke="#161616" stroke-width="2" />
<line x1="847.15" y1="563.2" x2="855.65" y2="563.2" stroke="#161616" stroke-width="2" />
<line x1="941.4" y1="546.41" x2="941.4" y2="563.2" stroke="#161616" stroke-width="2" />
<line x1="937.15" y1="546.41" x2="945.65" y2="546.41" stroke="#161616" stroke-width="2" />
<line x1="937.15" y1="563.2" x2="945.65" y2="563.2" stroke="#161616" stroke-width="2" />
<line x1="1031.4" y1="546.41" x2="1031.4" y2="563.2" stroke="#161616" stroke-width="2" />
<line x1="1027.15" y1="546.41" x2="1035.65" y2="546.41" stroke="#161616" stroke-width="2" />
<line x1="1027.15" y1="563.2" x2="1035.65" y2="563.2" stroke="#161616" stroke-width="2" />
<line x1="1076.4" y1="538.17" x2="1076.4" y2="563.2" stroke="#161616" stroke-width="2" />
<line x1="1072.15" y1="538.17" x2="1080.65" y2="538.17" stroke="#161616" stroke-width="2" />
<line x1="1072.15" y1="563.2" x2="1080.65" y2="563.2" stroke="#161616" stroke-width="2" />
<line x1="761.4" y1="536.11" x2="761.4" y2="563.2" stroke="#0f3a4c" stroke-width="2" />
<line x1="757.15" y1="536.11" x2="765.65" y2="536.11" stroke="#0f3a4c" stroke-width="2" />
<line x1="757.15" y1="563.2" x2="765.65" y2="563.2" stroke="#0f3a4c" stroke-width="2" />
<line x1="806.4" y1="514.61" x2="806.4" y2="563.2" stroke="#0f3a4c" stroke-width="2" />
<line x1="802.15" y1="514.61" x2="810.65" y2="514.61" stroke="#0f3a4c" stroke-width="2" />
<line x1="802.15" y1="563.2" x2="810.65" y2="563.2" stroke="#0f3a4c" stroke-width="2" />
<line x1="851.4" y1="516.08" x2="851.4" y2="551.42" stroke="#0f3a4c" stroke-width="2" />
<line x1="847.15" y1="516.08" x2="855.65" y2="516.08" stroke="#0f3a4c" stroke-width="2" />
<line x1="847.15" y1="551.42" x2="855.65" y2="551.42" stroke="#0f3a4c" stroke-width="2" />
<line x1="896.4" y1="474.26" x2="896.4" y2="518.44" stroke="#0f3a4c" stroke-width="2" />
<line x1="892.15" y1="474.26" x2="900.65" y2="474.26" stroke="#0f3a4c" stroke-width="2" />
<line x1="892.15" y1="518.44" x2="900.65" y2="518.44" stroke="#0f3a4c" stroke-width="2" />
<line x1="941.4" y1="433.62" x2="941.4" y2="498.41" stroke="#0f3a4c" stroke-width="2" />
<line x1="937.15" y1="433.62" x2="945.65" y2="433.62" stroke="#0f3a4c" stroke-width="2" />
<line x1="937.15" y1="498.41" x2="945.65" y2="498.41" stroke="#0f3a4c" stroke-width="2" />
<line x1="986.4" y1="355.58" x2="986.4" y2="426.26" stroke="#0f3a4c" stroke-width="2" />
<line x1="982.15" y1="355.58" x2="990.65" y2="355.58" stroke="#0f3a4c" stroke-width="2" />
<line x1="982.15" y1="426.26" x2="990.65" y2="426.26" stroke="#0f3a4c" stroke-width="2" />
<line x1="1031.4" y1="314.94" x2="1031.4" y2="408" stroke="#0f3a4c" stroke-width="2" />
<line x1="1027.15" y1="314.94" x2="1035.65" y2="314.94" stroke="#0f3a4c" stroke-width="2" />
<line x1="1027.15" y1="408" x2="1035.65" y2="408" stroke="#0f3a4c" stroke-width="2" />
<line x1="1076.4" y1="340.26" x2="1076.4" y2="373.84" stroke="#0f3a4c" stroke-width="2" />
<line x1="1072.15" y1="340.26" x2="1080.65" y2="340.26" stroke="#0f3a4c" stroke-width="2" />
<line x1="1072.15" y1="373.84" x2="1080.65" y2="373.84" stroke="#0f3a4c" stroke-width="2" />
<path d="M716.4,563.2 L761.4,558.78 L806.4,547 L851.4,536.7 L896.4,498.41 L941.4,474.85 L986.4,439.51 L1031.4,483.69 L1076.4,508.72" fill="none" stroke="#f4e8b8" stroke-width="2" stroke-dasharray="4 3"/>
<path d="M716.4,563.2 L761.4,552.89 L806.4,533.75 L851.4,519.03 L896.4,510.19 L941.4,489.58 L986.4,424.79 L1031.4,430.68 L1076.4,454.24" fill="none" stroke="#c3e2ca" stroke-width="2" stroke-dasharray="4 3"/>
<path d="M716.4,563.2 L761.4,555.84 L806.4,545.53 L851.4,521.97 L896.4,495.47 L941.4,460.13 L986.4,435.09 L1031.4,421.84 L1076.4,427.73" fill="none" stroke="#f6c443" stroke-width="2" stroke-dasharray="4 3"/>
<path d="M716.4,563.2 L761.4,563.2 L806.4,557.31 L851.4,552.89 L896.4,563.2 L941.4,558.19 L986.4,563.2 L1031.4,558.19 L1076.4,552.89" fill="none" stroke="#3a3a3a" stroke-width="2" stroke-dasharray="4 3"/>
<path d="M716.4,563.2 L761.4,550.83 L806.4,542.59 L851.4,533.75 L896.4,496.35 L941.4,466.02 L986.4,390.92 L1031.4,361.47 L1076.4,357.05" fill="none" stroke="#1f6499" stroke-width="2" stroke-dasharray="4 3"/>
<path d="M716.4,558.5 L720.44,563.2 L716.4,567.9 L712.36,563.2 Z" fill="#f4e8b8" stroke="none" stroke-width="0" />
<path d="M761.4,554.08 L765.44,558.78 L761.4,563.48 L757.36,558.78 Z" fill="#f4e8b8" stroke="none" stroke-width="0" />
<path d="M806.4,542.3 L810.44,547 L806.4,551.7 L802.36,547 Z" fill="#f4e8b8" stroke="none" stroke-width="0" />
<path d="M851.4,532 L855.44,536.7 L851.4,541.4 L847.36,536.7 Z" fill="#f4e8b8" stroke="none" stroke-width="0" />
<path d="M896.4,493.71 L900.44,498.41 L896.4,503.11 L892.36,498.41 Z" fill="#f4e8b8" stroke="none" stroke-width="0" />
<path d="M941.4,470.15 L945.44,474.85 L941.4,479.55 L937.36,474.85 Z" fill="#f4e8b8" stroke="none" stroke-width="0" />
<path d="M986.4,434.81 L990.44,439.51 L986.4,444.21 L982.36,439.51 Z" fill="#f4e8b8" stroke="none" stroke-width="0" />
<path d="M1031.4,478.99 L1035.44,483.69 L1031.4,488.39 L1027.36,483.69 Z" fill="#f4e8b8" stroke="none" stroke-width="0" />
<path d="M1076.4,504.02 L1080.44,508.72 L1076.4,513.42 L1072.36,508.72 Z" fill="#f4e8b8" stroke="none" stroke-width="0" />
<path d="M716.4,568.96 L721.2,559.36 L711.6,559.36 Z" fill="#c3e2ca" stroke="none" stroke-width="0" />
<path d="M761.4,558.65 L766.2,549.05 L756.6,549.05 Z" fill="#c3e2ca" stroke="none" stroke-width="0" />
<path d="M806.4,539.51 L811.2,529.91 L801.6,529.91 Z" fill="#c3e2ca" stroke="none" stroke-width="0" />
<path d="M851.4,524.79 L856.2,515.19 L846.6,515.19 Z" fill="#c3e2ca" stroke="none" stroke-width="0" />
<path d="M896.4,515.95 L901.2,506.35 L891.6,506.35 Z" fill="#c3e2ca" stroke="none" stroke-width="0" />
<path d="M941.4,495.34 L946.2,485.74 L936.6,485.74 Z" fill="#c3e2ca" stroke="none" stroke-width="0" />
<path d="M986.4,430.55 L991.2,420.95 L981.6,420.95 Z" fill="#c3e2ca" stroke="none" stroke-width="0" />
<path d="M1031.4,436.44 L1036.2,426.84 L1026.6,426.84 Z" fill="#c3e2ca" stroke="none" stroke-width="0" />
<path d="M1076.4,460 L1081.2,450.4 L1071.6,450.4 Z" fill="#c3e2ca" stroke="none" stroke-width="0" />
<path d="M716.4,557.44 L721.2,567.04 L711.6,567.04 Z" fill="#f6c443" stroke="none" stroke-width="0" />
<path d="M761.4,550.08 L766.2,559.68 L756.6,559.68 Z" fill="#f6c443" stroke="none" stroke-width="0" />
<path d="M806.4,539.77 L811.2,549.37 L801.6,549.37 Z" fill="#f6c443" stroke="none" stroke-width="0" />
<path d="M851.4,516.21 L856.2,525.81 L846.6,525.81 Z" fill="#f6c443" stroke="none" stroke-width="0" />
<path d="M896.4,489.71 L901.2,499.31 L891.6,499.31 Z" fill="#f6c443" stroke="none" stroke-width="0" />
<path d="M941.4,454.37 L946.2,463.97 L936.6,463.97 Z" fill="#f6c443" stroke="none" stroke-width="0" />
<path d="M986.4,429.33 L991.2,438.93 L981.6,438.93 Z" fill="#f6c443" stroke="none" stroke-width="0" />
<path d="M1031.4,416.08 L1036.2,425.68 L1026.6,425.68 Z" fill="#f6c443" stroke="none" stroke-width="0" />
<path d="M1076.4,421.97 L1081.2,431.57 L1071.6,431.57 Z" fill="#f6c443" stroke="none" stroke-width="0" />
<circle cx="716.4" cy="563.2" r="4.7" fill="#3a3a3a" />
<circle cx="761.4" cy="563.2" r="4.7" fill="#3a3a3a" />
<circle cx="806.4" cy="557.31" r="4.7" fill="#3a3a3a" />
<circle cx="851.4" cy="552.89" r="4.7" fill="#3a3a3a" />
<circle cx="896.4" cy="563.2" r="4.7" fill="#3a3a3a" />
<circle cx="941.4" cy="558.19" r="4.7" fill="#3a3a3a" />
<circle cx="986.4" cy="563.2" r="4.7" fill="#3a3a3a" />
<circle cx="1031.4" cy="558.19" r="4.7" fill="#3a3a3a" />
<circle cx="1076.4" cy="552.89" r="4.7" fill="#3a3a3a" />
<rect x="711.6" y="558.4" width="9.6" height="9.6" fill="#1f6499" stroke="none" stroke-width="0" />
<rect x="756.6" y="546.03" width="9.6" height="9.6" fill="#1f6499" stroke="none" stroke-width="0" />
<rect x="801.6" y="537.79" width="9.6" height="9.6" fill="#1f6499" stroke="none" stroke-width="0" />
<rect x="846.6" y="528.95" width="9.6" height="9.6" fill="#1f6499" stroke="none" stroke-width="0" />
<rect x="891.6" y="491.55" width="9.6" height="9.6" fill="#1f6499" stroke="none" stroke-width="0" />
<rect x="936.6" y="461.22" width="9.6" height="9.6" fill="#1f6499" stroke="none" stroke-width="0" />
<rect x="981.6" y="386.12" width="9.6" height="9.6" fill="#1f6499" stroke="none" stroke-width="0" />
<rect x="1026.6" y="356.67" width="9.6" height="9.6" fill="#1f6499" stroke="none" stroke-width="0" />
<rect x="1071.6" y="352.25" width="9.6" height="9.6" fill="#1f6499" stroke="none" stroke-width="0" />
<line x1="755.8" y1="318.7" x2="788.3" y2="318.7" stroke="#3a3a3a" stroke-width="2" stroke-dasharray="4 3"/>
<circle cx="772" cy="318.7" r="4.7" fill="#3a3a3a" />
<text x="806" y="325.9" font-size="20.8" text-anchor="start" fill="#000" >Control</text>
<line x1="755.8" y1="341.7" x2="788.3" y2="341.7" stroke="#1f6499" stroke-width="2" stroke-dasharray="4 3"/>
<rect x="767.3" y="337" width="9.4" height="9.4" fill="#1f6499" stroke="none" stroke-width="0" />
<text x="806" y="348.9" font-size="20.8" text-anchor="start" fill="#000" >DSS</text>
<line x1="755.8" y1="365" x2="788.3" y2="365" stroke="#f6c443" stroke-width="2" stroke-dasharray="4 3"/>
<path d="M772,359.36 L776.7,368.76 L767.3,368.76 Z" fill="#f6c443" stroke="none" stroke-width="0" />
<text x="806" y="372.2" font-size="20.8" text-anchor="start" fill="#000" >Rut</text>
<line x1="755.8" y1="387.5" x2="788.3" y2="387.5" stroke="#c3e2ca" stroke-width="2" stroke-dasharray="4 3"/>
<path d="M772,393.14 L776.7,383.74 L767.3,383.74 Z" fill="#c3e2ca" stroke="none" stroke-width="0" />
<text x="806" y="394.7" font-size="20.8" text-anchor="start" fill="#000" >P@Rut</text>
<line x1="755.8" y1="410.8" x2="788.3" y2="410.8" stroke="#f4e8b8" stroke-width="2" stroke-dasharray="4 3"/>
<path d="M772,406.1 L776.04,410.8 L772,415.5 L767.96,410.8 Z" fill="#f4e8b8" stroke="none" stroke-width="0" />
<text x="806" y="418" font-size="20.8" text-anchor="start" fill="#000" >PP@Rut</text>
<line x1="1102.7" y1="453.9" x2="1102.7" y2="510.1" stroke="#000" stroke-width="2" />
<path d="M1118.4,482.1 L1130.8,482.1 M1121.5,476.73 L1127.7,487.47 M1127.7,476.73 L1121.5,487.47 " fill="none" stroke="#000" stroke-width="2" />
<line x1="1148" y1="358" x2="1148" y2="555.5" stroke="#000" stroke-width="2" />
<path d="M1163.6,449.2 L1176,449.2 M1166.7,443.83 L1172.9,454.57 M1172.9,443.83 L1166.7,454.57 " fill="none" stroke="#000" stroke-width="2" />
<path d="M1163.6,464.2 L1176,464.2 M1166.7,458.83 L1172.9,469.57 M1172.9,458.83 L1166.7,469.57 " fill="none" stroke="#000" stroke-width="2" />
<text x="5" y="635.9" font-size="30.5" text-anchor="start" fill="#000" >D</text>
<rect x="143" y="651" width="113.5" height="274" fill="#e6e6e6" stroke="none" stroke-width="0" />
<rect x="143" y="651" width="113.5" height="274" fill="url(#photoGrad)"/>
<defs><linearGradient id="photoGrad" x1="0" x2="1" y1="0" y2="1">
<stop offset="0" stop-color="#ececec"/><stop offset="1" stop-color="#dcdcdc"/></linearGradient>
<linearGradient id="rulerGrad" x1="0" x2="0" y1="0" y2="1">
<stop offset="0" stop-color="#4e4e4e"/><stop offset="0.45" stop-color="#5c5c5c"/><stop offset="0.5" stop-color="#6e6e6e"/><stop offset="1" stop-color="#626262"/></linearGradient></defs>
<rect x="146" y="692" width="110" height="7.2" fill="#575757" stroke="none" stroke-width="0" />
<rect x="146" y="699.2" width="110" height="8.8" fill="#767676" stroke="none" stroke-width="0" />
<line x1="146" y1="707.5" x2="256" y2="707.5" stroke="#555" stroke-width="1" />
<line x1="148" y1="692.3" x2="148" y2="696.3" stroke="#9a9a9a" stroke-width="0.55" />
<line x1="150.43" y1="692.3" x2="150.43" y2="694.6" stroke="#9a9a9a" stroke-width="0.55" />
<line x1="152.86" y1="692.3" x2="152.86" y2="694.6" stroke="#9a9a9a" stroke-width="0.55" />
<line x1="155.29" y1="692.3" x2="155.29" y2="694.6" stroke="#9a9a9a" stroke-width="0.55" />
<line x1="157.72" y1="692.3" x2="157.72" y2="694.6" stroke="#9a9a9a" stroke-width="0.55" />
<line x1="160.15" y1="692.3" x2="160.15" y2="696.3" stroke="#9a9a9a" stroke-width="0.55" />
<line x1="162.58" y1="692.3" x2="162.58" y2="694.6" stroke="#9a9a9a" stroke-width="0.55" />
<line x1="165.01" y1="692.3" x2="165.01" y2="694.6" stroke="#9a9a9a" stroke-width="0.55" />
<line x1="167.44" y1="692.3" x2="167.44" y2="694.6" stroke="#9a9a9a" stroke-width="0.55" />
<line x1="169.87" y1="692.3" x2="169.87" y2="694.6" stroke="#9a9a9a" stroke-width="0.55" />
<line x1="172.3" y1="692.3" x2="172.3" y2="696.3" stroke="#9a9a9a" stroke-width="0.55" />
<line x1="174.73" y1="692.3" x2="174.73" y2="694.6" stroke="#9a9a9a" stroke-width="0.55" />
<line x1="177.16" y1="692.3" x2="177.16" y2="694.6" stroke="#9a9a9a" stroke-width="0.55" />
<line x1="179.59" y1="692.3" x2="179.59" y2="694.6" stroke="#9a9a9a" stroke-width="0.55" />
<line x1="182.02" y1="692.3" x2="182.02" y2="694.6" stroke="#9a9a9a" stroke-width="0.55" />
<line x1="184.45" y1="692.3" x2="184.45" y2="696.3" stroke="#9a9a9a" stroke-width="0.55" />
<line x1="186.88" y1="692.3" x2="186.88" y2="694.6" stroke="#9a9a9a" stroke-width="0.55" />
<line x1="189.31" y1="692.3" x2="189.31" y2="694.6" stroke="#9a9a9a" stroke-width="0.55" />
<line x1="191.74" y1="692.3" x2="191.74" y2="694.6" stroke="#9a9a9a" stroke-width="0.55" />
<line x1="194.17" y1="692.3" x2="194.17" y2="694.6" stroke="#9a9a9a" stroke-width="0.55" />
<line x1="196.6" y1="692.3" x2="196.6" y2="696.3" stroke="#9a9a9a" stroke-width="0.55" />
<line x1="199.03" y1="692.3" x2="199.03" y2="694.6" stroke="#9a9a9a" stroke-width="0.55" />
<line x1="201.46" y1="692.3" x2="201.46" y2="694.6" stroke="#9a9a9a" stroke-width="0.55" />
<line x1="203.89" y1="692.3" x2="203.89" y2="694.6" stroke="#9a9a9a" stroke-width="0.55" />
<line x1="206.32" y1="692.3" x2="206.32" y2="694.6" stroke="#9a9a9a" stroke-width="0.55" />
<line x1="208.75" y1="692.3" x2="208.75" y2="696.3" stroke="#9a9a9a" stroke-width="0.55" />
<line x1="211.18" y1="692.3" x2="211.18" y2="694.6" stroke="#9a9a9a" stroke-width="0.55" />
<line x1="213.61" y1="692.3" x2="213.61" y2="694.6" stroke="#9a9a9a" stroke-width="0.55" />
<line x1="216.04" y1="692.3" x2="216.04" y2="694.6" stroke="#9a9a9a" stroke-width="0.55" />
<line x1="218.47" y1="692.3" x2="218.47" y2="694.6" stroke="#9a9a9a" stroke-width="0.55" />
<line x1="220.9" y1="692.3" x2="220.9" y2="696.3" stroke="#9a9a9a" stroke-width="0.55" />
<line x1="223.33" y1="692.3" x2="223.33" y2="694.6" stroke="#9a9a9a" stroke-width="0.55" />
<line x1="225.76" y1="692.3" x2="225.76" y2="694.6" stroke="#9a9a9a" stroke-width="0.55" />
<line x1="228.19" y1="692.3" x2="228.19" y2="694.6" stroke="#9a9a9a" stroke-width="0.55" />
<line x1="230.62" y1="692.3" x2="230.62" y2="694.6" stroke="#9a9a9a" stroke-width="0.55" />
<line x1="233.05" y1="692.3" x2="233.05" y2="696.3" stroke="#9a9a9a" stroke-width="0.55" />
<line x1="235.48" y1="692.3" x2="235.48" y2="694.6" stroke="#9a9a9a" stroke-width="0.55" />
<line x1="237.91" y1="692.3" x2="237.91" y2="694.6" stroke="#9a9a9a" stroke-width="0.55" />
<line x1="240.34" y1="692.3" x2="240.34" y2="694.6" stroke="#9a9a9a" stroke-width="0.55" />
<line x1="242.77" y1="692.3" x2="242.77" y2="694.6" stroke="#9a9a9a" stroke-width="0.55" />
<line x1="245.2" y1="692.3" x2="245.2" y2="696.3" stroke="#9a9a9a" stroke-width="0.55" />
<line x1="247.63" y1="692.3" x2="247.63" y2="694.6" stroke="#9a9a9a" stroke-width="0.55" />
<line x1="250.06" y1="692.3" x2="250.06" y2="694.6" stroke="#9a9a9a" stroke-width="0.55" />
<line x1="252.49" y1="692.3" x2="252.49" y2="694.6" stroke="#9a9a9a" stroke-width="0.55" />
<line x1="254.92" y1="692.3" x2="254.92" y2="694.6" stroke="#9a9a9a" stroke-width="0.55" />
<text x="150.5" y="705.4" font-size="5.6" text-anchor="middle" fill="#2e2e2e" font-family="Liberation Serif">-1</text>
<text x="165.8" y="705.4" font-size="5.6" text-anchor="middle" fill="#2e2e2e" font-family="Liberation Serif">2</text>
<text x="176.6" y="705.4" font-size="5.6" text-anchor="middle" fill="#2e2e2e" font-family="Liberation Serif">3</text>
<text x="187.4" y="705.4" font-size="5.6" text-anchor="middle" fill="#2e2e2e" font-family="Liberation Serif">4</text>
<text x="198.2" y="705.4" font-size="5.6" text-anchor="middle" fill="#2e2e2e" font-family="Liberation Serif">5</text>
<text x="209" y="705.4" font-size="5.6" text-anchor="middle" fill="#2e2e2e" font-family="Liberation Serif">6</text>
<text x="219.8" y="705.4" font-size="5.6" text-anchor="middle" fill="#2e2e2e" font-family="Liberation Serif">7</text>
<text x="230.6" y="705.4" font-size="5.6" text-anchor="middle" fill="#2e2e2e" font-family="Liberation Serif">8</text>
<text x="241.4" y="705.4" font-size="5.6" text-anchor="middle" fill="#2e2e2e" font-family="Liberation Serif">9</text>
<text x="252.2" y="705.4" font-size="5.6" text-anchor="middle" fill="#2e2e2e" font-family="Liberation Serif">1</text>
<rect x="146" y="738.7" width="110" height="7.69" fill="#575757" stroke="none" stroke-width="0" />
<rect x="146" y="746.39" width="110" height="9.4" fill="#767676" stroke="none" stroke-width="0" />
<line x1="146" y1="755.3" x2="256" y2="755.3" stroke="#555" stroke-width="1" />
<line x1="148" y1="739" x2="148" y2="743" stroke="#9a9a9a" stroke-width="0.55" />
<line x1="150.43" y1="739" x2="150.43" y2="741.3" stroke="#9a9a9a" stroke-width="0.55" />
<line x1="152.86" y1="739" x2="152.86" y2="741.3" stroke="#9a9a9a" stroke-width="0.55" />
<line x1="155.29" y1="739" x2="155.29" y2="741.3" stroke="#9a9a9a" stroke-width="0.55" />
<line x1="157.72" y1="739" x2="157.72" y2="741.3" stroke="#9a9a9a" stroke-width="0.55" />
<line x1="160.15" y1="739" x2="160.15" y2="743" stroke="#9a9a9a" stroke-width="0.55" />
<line x1="162.58" y1="739" x2="162.58" y2="741.3" stroke="#9a9a9a" stroke-width="0.55" />
<line x1="165.01" y1="739" x2="165.01" y2="741.3" stroke="#9a9a9a" stroke-width="0.55" />
<line x1="167.44" y1="739" x2="167.44" y2="741.3" stroke="#9a9a9a" stroke-width="0.55" />
<line x1="169.87" y1="739" x2="169.87" y2="741.3" stroke="#9a9a9a" stroke-width="0.55" />
<line x1="172.3" y1="739" x2="172.3" y2="743" stroke="#9a9a9a" stroke-width="0.55" />
<line x1="174.73" y1="739" x2="174.73" y2="741.3" stroke="#9a9a9a" stroke-width="0.55" />
<line x1="177.16" y1="739" x2="177.16" y2="741.3" stroke="#9a9a9a" stroke-width="0.55" />
<line x1="179.59" y1="739" x2="179.59" y2="741.3" stroke="#9a9a9a" stroke-width="0.55" />
<line x1="182.02" y1="739" x2="182.02" y2="741.3" stroke="#9a9a9a" stroke-width="0.55" />
<line x1="184.45" y1="739" x2="184.45" y2="743" stroke="#9a9a9a" stroke-width="0.55" />
<line x1="186.88" y1="739" x2="186.88" y2="741.3" stroke="#9a9a9a" stroke-width="0.55" />
<line x1="189.31" y1="739" x2="189.31" y2="741.3" stroke="#9a9a9a" stroke-width="0.55" />
<line x1="191.74" y1="739" x2="191.74" y2="741.3" stroke="#9a9a9a" stroke-width="0.55" />
<line x1="194.17" y1="739" x2="194.17" y2="741.3" stroke="#9a9a9a" stroke-width="0.55" />
<line x1="196.6" y1="739" x2="196.6" y2="743" stroke="#9a9a9a" stroke-width="0.55" />
<line x1="199.03" y1="739" x2="199.03" y2="741.3" stroke="#9a9a9a" stroke-width="0.55" />
<line x1="201.46" y1="739" x2="201.46" y2="741.3" stroke="#9a9a9a" stroke-width="0.55" />
<line x1="203.89" y1="739" x2="203.89" y2="741.3" stroke="#9a9a9a" stroke-width="0.55" />
<line x1="206.32" y1="739" x2="206.32" y2="741.3" stroke="#9a9a9a" stroke-width="0.55" />
<line x1="208.75" y1="739" x2="208.75" y2="743" stroke="#9a9a9a" stroke-width="0.55" />
<line x1="211.18" y1="739" x2="211.18" y2="741.3" stroke="#9a9a9a" stroke-width="0.55" />
<line x1="213.61" y1="739" x2="213.61" y2="741.3" stroke="#9a9a9a" stroke-width="0.55" />
<line x1="216.04" y1="739" x2="216.04" y2="741.3" stroke="#9a9a9a" stroke-width="0.55" />
<line x1="218.47" y1="739" x2="218.47" y2="741.3" stroke="#9a9a9a" stroke-width="0.55" />
<line x1="220.9" y1="739" x2="220.9" y2="743" stroke="#9a9a9a" stroke-width="0.55" />
<line x1="223.33" y1="739" x2="223.33" y2="741.3" stroke="#9a9a9a" stroke-width="0.55" />
<line x1="225.76" y1="739" x2="225.76" y2="741.3" stroke="#9a9a9a" stroke-width="0.55" />
<line x1="228.19" y1="739" x2="228.19" y2="741.3" stroke="#9a9a9a" stroke-width="0.55" />
<line x1="230.62" y1="739" x2="230.62" y2="741.3" stroke="#9a9a9a" stroke-width="0.55" />
<line x1="233.05" y1="739" x2="233.05" y2="743" stroke="#9a9a9a" stroke-width="0.55" />
<line x1="235.48" y1="739" x2="235.48" y2="741.3" stroke="#9a9a9a" stroke-width="0.55" />
<line x1="237.91" y1="739" x2="237.91" y2="741.3" stroke="#9a9a9a" stroke-width="0.55" />
<line x1="240.34" y1="739" x2="240.34" y2="741.3" stroke="#9a9a9a" stroke-width="0.55" />
<line x1="242.77" y1="739" x2="242.77" y2="741.3" stroke="#9a9a9a" stroke-width="0.55" />
<line x1="245.2" y1="739" x2="245.2" y2="743" stroke="#9a9a9a" stroke-width="0.55" />
<line x1="247.63" y1="739" x2="247.63" y2="741.3" stroke="#9a9a9a" stroke-width="0.55" />
<line x1="250.06" y1="739" x2="250.06" y2="741.3" stroke="#9a9a9a" stroke-width="0.55" />
<line x1="252.49" y1="739" x2="252.49" y2="741.3" stroke="#9a9a9a" stroke-width="0.55" />
<line x1="254.92" y1="739" x2="254.92" y2="741.3" stroke="#9a9a9a" stroke-width="0.55" />
<text x="150.5" y="753.2" font-size="5.6" text-anchor="middle" fill="#2e2e2e" font-family="Liberation Serif">-1</text>
<text x="165.8" y="753.2" font-size="5.6" text-anchor="middle" fill="#2e2e2e" font-family="Liberation Serif">2</text>
<text x="176.6" y="753.2" font-size="5.6" text-anchor="middle" fill="#2e2e2e" font-family="Liberation Serif">3</text>
<text x="187.4" y="753.2" font-size="5.6" text-anchor="middle" fill="#2e2e2e" font-family="Liberation Serif">4</text>
<text x="198.2" y="753.2" font-size="5.6" text-anchor="middle" fill="#2e2e2e" font-family="Liberation Serif">5</text>
<text x="209" y="753.2" font-size="5.6" text-anchor="middle" fill="#2e2e2e" font-family="Liberation Serif">6</text>
<text x="219.8" y="753.2" font-size="5.6" text-anchor="middle" fill="#2e2e2e" font-family="Liberation Serif">7</text>
<text x="230.6" y="753.2" font-size="5.6" text-anchor="middle" fill="#2e2e2e" font-family="Liberation Serif">8</text>
<text x="241.4" y="753.2" font-size="5.6" text-anchor="middle" fill="#2e2e2e" font-family="Liberation Serif">9</text>
<text x="252.2" y="753.2" font-size="5.6" text-anchor="middle" fill="#2e2e2e" font-family="Liberation Serif">1</text>
<rect x="146" y="789.3" width="110" height="6.62" fill="#575757" stroke="none" stroke-width="0" />
<rect x="146" y="795.91" width="110" height="8.09" fill="#767676" stroke="none" stroke-width="0" />
<line x1="146" y1="803.5" x2="256" y2="803.5" stroke="#555" stroke-width="1" />
<line x1="148" y1="789.6" x2="148" y2="793.6" stroke="#9a9a9a" stroke-width="0.55" />
<line x1="150.43" y1="789.6" x2="150.43" y2="791.9" stroke="#9a9a9a" stroke-width="0.55" />
<line x1="152.86" y1="789.6" x2="152.86" y2="791.9" stroke="#9a9a9a" stroke-width="0.55" />
<line x1="155.29" y1="789.6" x2="155.29" y2="791.9" stroke="#9a9a9a" stroke-width="0.55" />
<line x1="157.72" y1="789.6" x2="157.72" y2="791.9" stroke="#9a9a9a" stroke-width="0.55" />
<line x1="160.15" y1="789.6" x2="160.15" y2="793.6" stroke="#9a9a9a" stroke-width="0.55" />
<line x1="162.58" y1="789.6" x2="162.58" y2="791.9" stroke="#9a9a9a" stroke-width="0.55" />
<line x1="165.01" y1="789.6" x2="165.01" y2="791.9" stroke="#9a9a9a" stroke-width="0.55" />
<line x1="167.44" y1="789.6" x2="167.44" y2="791.9" stroke="#9a9a9a" stroke-width="0.55" />
<line x1="169.87" y1="789.6" x2="169.87" y2="791.9" stroke="#9a9a9a" stroke-width="0.55" />
<line x1="172.3" y1="789.6" x2="172.3" y2="793.6" stroke="#9a9a9a" stroke-width="0.55" />
<line x1="174.73" y1="789.6" x2="174.73" y2="791.9" stroke="#9a9a9a" stroke-width="0.55" />
<line x1="177.16" y1="789.6" x2="177.16" y2="791.9" stroke="#9a9a9a" stroke-width="0.55" />
<line x1="179.59" y1="789.6" x2="179.59" y2="791.9" stroke="#9a9a9a" stroke-width="0.55" />
<line x1="182.02" y1="789.6" x2="182.02" y2="791.9" stroke="#9a9a9a" stroke-width="0.55" />
<line x1="184.45" y1="789.6" x2="184.45" y2="793.6" stroke="#9a9a9a" stroke-width="0.55" />
<line x1="186.88" y1="789.6" x2="186.88" y2="791.9" stroke="#9a9a9a" stroke-width="0.55" />
<line x1="189.31" y1="789.6" x2="189.31" y2="791.9" stroke="#9a9a9a" stroke-width="0.55" />
<line x1="191.74" y1="789.6" x2="191.74" y2="791.9" stroke="#9a9a9a" stroke-width="0.55" />
<line x1="194.17" y1="789.6" x2="194.17" y2="791.9" stroke="#9a9a9a" stroke-width="0.55" />
<line x1="196.6" y1="789.6" x2="196.6" y2="793.6" stroke="#9a9a9a" stroke-width="0.55" />
<line x1="199.03" y1="789.6" x2="199.03" y2="791.9" stroke="#9a9a9a" stroke-width="0.55" />
<line x1="201.46" y1="789.6" x2="201.46" y2="791.9" stroke="#9a9a9a" stroke-width="0.55" />
<line x1="203.89" y1="789.6" x2="203.89" y2="791.9" stroke="#9a9a9a" stroke-width="0.55" />
<line x1="206.32" y1="789.6" x2="206.32" y2="791.9" stroke="#9a9a9a" stroke-width="0.55" />
<line x1="208.75" y1="789.6" x2="208.75" y2="793.6" stroke="#9a9a9a" stroke-width="0.55" />
<line x1="211.18" y1="789.6" x2="211.18" y2="791.9" stroke="#9a9a9a" stroke-width="0.55" />
<line x1="213.61" y1="789.6" x2="213.61" y2="791.9" stroke="#9a9a9a" stroke-width="0.55" />
<line x1="216.04" y1="789.6" x2="216.04" y2="791.9" stroke="#9a9a9a" stroke-width="0.55" />
<line x1="218.47" y1="789.6" x2="218.47" y2="791.9" stroke="#9a9a9a" stroke-width="0.55" />
<line x1="220.9" y1="789.6" x2="220.9" y2="793.6" stroke="#9a9a9a" stroke-width="0.55" />
<line x1="223.33" y1="789.6" x2="223.33" y2="791.9" stroke="#9a9a9a" stroke-width="0.55" />
<line x1="225.76" y1="789.6" x2="225.76" y2="791.9" stroke="#9a9a9a" stroke-width="0.55" />
<line x1="228.19" y1="789.6" x2="228.19" y2="791.9" stroke="#9a9a9a" stroke-width="0.55" />
<line x1="230.62" y1="789.6" x2="230.62" y2="791.9" stroke="#9a9a9a" stroke-width="0.55" />
<line x1="233.05" y1="789.6" x2="233.05" y2="793.6" stroke="#9a9a9a" stroke-width="0.55" />
<line x1="235.48" y1="789.6" x2="235.48" y2="791.9" stroke="#9a9a9a" stroke-width="0.55" />
<line x1="237.91" y1="789.6" x2="237.91" y2="791.9" stroke="#9a9a9a" stroke-width="0.55" />
<line x1="240.34" y1="789.6" x2="240.34" y2="791.9" stroke="#9a9a9a" stroke-width="0.55" />
<line x1="242.77" y1="789.6" x2="242.77" y2="791.9" stroke="#9a9a9a" stroke-width="0.55" />
<line x1="245.2" y1="789.6" x2="245.2" y2="793.6" stroke="#9a9a9a" stroke-width="0.55" />
<line x1="247.63" y1="789.6" x2="247.63" y2="791.9" stroke="#9a9a9a" stroke-width="0.55" />
<line x1="250.06" y1="789.6" x2="250.06" y2="791.9" stroke="#9a9a9a" stroke-width="0.55" />
<line x1="252.49" y1="789.6" x2="252.49" y2="791.9" stroke="#9a9a9a" stroke-width="0.55" />
<line x1="254.92" y1="789.6" x2="254.92" y2="791.9" stroke="#9a9a9a" stroke-width="0.55" />
<text x="150.5" y="801.4" font-size="5.6" text-anchor="middle" fill="#2e2e2e" font-family="Liberation Serif">-1</text>
<text x="165.8" y="801.4" font-size="5.6" text-anchor="middle" fill="#2e2e2e" font-family="Liberation Serif">2</text>
<text x="176.6" y="801.4" font-size="5.6" text-anchor="middle" fill="#2e2e2e" font-family="Liberation Serif">3</text>
<text x="187.4" y="801.4" font-size="5.6" text-anchor="middle" fill="#2e2e2e" font-family="Liberation Serif">4</text>
<text x="198.2" y="801.4" font-size="5.6" text-anchor="middle" fill="#2e2e2e" font-family="Liberation Serif">5</text>
<text x="209" y="801.4" font-size="5.6" text-anchor="middle" fill="#2e2e2e" font-family="Liberation Serif">6</text>
<text x="219.8" y="801.4" font-size="5.6" text-anchor="middle" fill="#2e2e2e" font-family="Liberation Serif">7</text>
<text x="230.6" y="801.4" font-size="5.6" text-anchor="middle" fill="#2e2e2e" font-family="Liberation Serif">8</text>
<text x="241.4" y="801.4" font-size="5.6" text-anchor="middle" fill="#2e2e2e" font-family="Liberation Serif">9</text>
<text x="252.2" y="801.4" font-size="5.6" text-anchor="middle" fill="#2e2e2e" font-family="Liberation Serif">1</text>
<rect x="146" y="845" width="110" height="6.43" fill="#575757" stroke="none" stroke-width="0" />
<rect x="146" y="851.43" width="110" height="7.86" fill="#767676" stroke="none" stroke-width="0" />
<line x1="146" y1="858.8" x2="256" y2="858.8" stroke="#555" stroke-width="1" />
<line x1="148" y1="845.3" x2="148" y2="849.3" stroke="#9a9a9a" stroke-width="0.55" />
<line x1="150.43" y1="845.3" x2="150.43" y2="847.6" stroke="#9a9a9a" stroke-width="0.55" />
<line x1="152.86" y1="845.3" x2="152.86" y2="847.6" stroke="#9a9a9a" stroke-width="0.55" />
<line x1="155.29" y1="845.3" x2="155.29" y2="847.6" stroke="#9a9a9a" stroke-width="0.55" />
<line x1="157.72" y1="845.3" x2="157.72" y2="847.6" stroke="#9a9a9a" stroke-width="0.55" />
<line x1="160.15" y1="845.3" x2="160.15" y2="849.3" stroke="#9a9a9a" stroke-width="0.55" />
<line x1="162.58" y1="845.3" x2="162.58" y2="847.6" stroke="#9a9a9a" stroke-width="0.55" />
<line x1="165.01" y1="845.3" x2="165.01" y2="847.6" stroke="#9a9a9a" stroke-width="0.55" />
<line x1="167.44" y1="845.3" x2="167.44" y2="847.6" stroke="#9a9a9a" stroke-width="0.55" />
<line x1="169.87" y1="845.3" x2="169.87" y2="847.6" stroke="#9a9a9a" stroke-width="0.55" />
<line x1="172.3" y1="845.3" x2="172.3" y2="849.3" stroke="#9a9a9a" stroke-width="0.55" />
<line x1="174.73" y1="845.3" x2="174.73" y2="847.6" stroke="#9a9a9a" stroke-width="0.55" />
<line x1="177.16" y1="845.3" x2="177.16" y2="847.6" stroke="#9a9a9a" stroke-width="0.55" />
<line x1="179.59" y1="845.3" x2="179.59" y2="847.6" stroke="#9a9a9a" stroke-width="0.55" />
<line x1="182.02" y1="845.3" x2="182.02" y2="847.6" stroke="#9a9a9a" stroke-width="0.55" />
<line x1="184.45" y1="845.3" x2="184.45" y2="849.3" stroke="#9a9a9a" stroke-width="0.55" />
<line x1="186.88" y1="845.3" x2="186.88" y2="847.6" stroke="#9a9a9a" stroke-width="0.55" />
<line x1="189.31" y1="845.3" x2="189.31" y2="847.6" stroke="#9a9a9a" stroke-width="0.55" />
<line x1="191.74" y1="845.3" x2="191.74" y2="847.6" stroke="#9a9a9a" stroke-width="0.55" />
<line x1="194.17" y1="845.3" x2="194.17" y2="847.6" stroke="#9a9a9a" stroke-width="0.55" />
<line x1="196.6" y1="845.3" x2="196.6" y2="849.3" stroke="#9a9a9a" stroke-width="0.55" />
<line x1="199.03" y1="845.3" x2="199.03" y2="847.6" stroke="#9a9a9a" stroke-width="0.55" />
<line x1="201.46" y1="845.3" x2="201.46" y2="847.6" stroke="#9a9a9a" stroke-width="0.55" />
<line x1="203.89" y1="845.3" x2="203.89" y2="847.6" stroke="#9a9a9a" stroke-width="0.55" />
<line x1="206.32" y1="845.3" x2="206.32" y2="847.6" stroke="#9a9a9a" stroke-width="0.55" />
<line x1="208.75" y1="845.3" x2="208.75" y2="849.3" stroke="#9a9a9a" stroke-width="0.55" />
<line x1="211.18" y1="845.3" x2="211.18" y2="847.6" stroke="#9a9a9a" stroke-width="0.55" />
<line x1="213.61" y1="845.3" x2="213.61" y2="847.6" stroke="#9a9a9a" stroke-width="0.55" />
<line x1="216.04" y1="845.3" x2="216.04" y2="847.6" stroke="#9a9a9a" stroke-width="0.55" />
<line x1="218.47" y1="845.3" x2="218.47" y2="847.6" stroke="#9a9a9a" stroke-width="0.55" />
<line x1="220.9" y1="845.3" x2="220.9" y2="849.3" stroke="#9a9a9a" stroke-width="0.55" />
<line x1="223.33" y1="845.3" x2="223.33" y2="847.6" stroke="#9a9a9a" stroke-width="0.55" />
<line x1="225.76" y1="845.3" x2="225.76" y2="847.6" stroke="#9a9a9a" stroke-width="0.55" />
<line x1="228.19" y1="845.3" x2="228.19" y2="847.6" stroke="#9a9a9a" stroke-width="0.55" />
<line x1="230.62" y1="845.3" x2="230.62" y2="847.6" stroke="#9a9a9a" stroke-width="0.55" />
<line x1="233.05" y1="845.3" x2="233.05" y2="849.3" stroke="#9a9a9a" stroke-width="0.55" />
<line x1="235.48" y1="845.3" x2="235.48" y2="847.6" stroke="#9a9a9a" stroke-width="0.55" />
<line x1="237.91" y1="845.3" x2="237.91" y2="847.6" stroke="#9a9a9a" stroke-width="0.55" />
<line x1="240.34" y1="845.3" x2="240.34" y2="847.6" stroke="#9a9a9a" stroke-width="0.55" />
<line x1="242.77" y1="845.3" x2="242.77" y2="847.6" stroke="#9a9a9a" stroke-width="0.55" />
<line x1="245.2" y1="845.3" x2="245.2" y2="849.3" stroke="#9a9a9a" stroke-width="0.55" />
<line x1="247.63" y1="845.3" x2="247.63" y2="847.6" stroke="#9a9a9a" stroke-width="0.55" />
<line x1="250.06" y1="845.3" x2="250.06" y2="847.6" stroke="#9a9a9a" stroke-width="0.55" />
<line x1="252.49" y1="845.3" x2="252.49" y2="847.6" stroke="#9a9a9a" stroke-width="0.55" />
<line x1="254.92" y1="845.3" x2="254.92" y2="847.6" stroke="#9a9a9a" stroke-width="0.55" />
<text x="150.5" y="856.7" font-size="5.6" text-anchor="middle" fill="#2e2e2e" font-family="Liberation Serif">-1</text>
<text x="165.8" y="856.7" font-size="5.6" text-anchor="middle" fill="#2e2e2e" font-family="Liberation Serif">2</text>
<text x="176.6" y="856.7" font-size="5.6" text-anchor="middle" fill="#2e2e2e" font-family="Liberation Serif">3</text>
<text x="187.4" y="856.7" font-size="5.6" text-anchor="middle" fill="#2e2e2e" font-family="Liberation Serif">4</text>
<text x="198.2" y="856.7" font-size="5.6" text-anchor="middle" fill="#2e2e2e" font-family="Liberation Serif">5</text>
<text x="209" y="856.7" font-size="5.6" text-anchor="middle" fill="#2e2e2e" font-family="Liberation Serif">6</text>
<text x="219.8" y="856.7" font-size="5.6" text-anchor="middle" fill="#2e2e2e" font-family="Liberation Serif">7</text>
<text x="230.6" y="856.7" font-size="5.6" text-anchor="middle" fill="#2e2e2e" font-family="Liberation Serif">8</text>
<text x="241.4" y="856.7" font-size="5.6" text-anchor="middle" fill="#2e2e2e" font-family="Liberation Serif">9</text>
<text x="252.2" y="856.7" font-size="5.6" text-anchor="middle" fill="#2e2e2e" font-family="Liberation Serif">1</text>
<rect x="146" y="910.4" width="110" height="6.39" fill="#575757" stroke="none" stroke-width="0" />
<rect x="146" y="916.79" width="110" height="7.81" fill="#767676" stroke="none" stroke-width="0" />
<line x1="146" y1="924.1" x2="256" y2="924.1" stroke="#555" stroke-width="1" />
<line x1="148" y1="910.7" x2="148" y2="914.7" stroke="#9a9a9a" stroke-width="0.55" />
<line x1="150.43" y1="910.7" x2="150.43" y2="913" stroke="#9a9a9a" stroke-width="0.55" />
<line x1="152.86" y1="910.7" x2="152.86" y2="913" stroke="#9a9a9a" stroke-width="0.55" />
<line x1="155.29" y1="910.7" x2="155.29" y2="913" stroke="#9a9a9a" stroke-width="0.55" />
<line x1="157.72" y1="910.7" x2="157.72" y2="913" stroke="#9a9a9a" stroke-width="0.55" />
<line x1="160.15" y1="910.7" x2="160.15" y2="914.7" stroke="#9a9a9a" stroke-width="0.55" />
<line x1="162.58" y1="910.7" x2="162.58" y2="913" stroke="#9a9a9a" stroke-width="0.55" />
<line x1="165.01" y1="910.7" x2="165.01" y2="913" stroke="#9a9a9a" stroke-width="0.55" />
<line x1="167.44" y1="910.7" x2="167.44" y2="913" stroke="#9a9a9a" stroke-width="0.55" />
<line x1="169.87" y1="910.7" x2="169.87" y2="913" stroke="#9a9a9a" stroke-width="0.55" />
<line x1="172.3" y1="910.7" x2="172.3" y2="914.7" stroke="#9a9a9a" stroke-width="0.55" />
<line x1="174.73" y1="910.7" x2="174.73" y2="913" stroke="#9a9a9a" stroke-width="0.55" />
<line x1="177.16" y1="910.7" x2="177.16" y2="913" stroke="#9a9a9a" stroke-width="0.55" />
<line x1="179.59" y1="910.7" x2="179.59" y2="913" stroke="#9a9a9a" stroke-width="0.55" />
<line x1="182.02" y1="910.7" x2="182.02" y2="913" stroke="#9a9a9a" stroke-width="0.55" />
<line x1="184.45" y1="910.7" x2="184.45" y2="914.7" stroke="#9a9a9a" stroke-width="0.55" />
<line x1="186.88" y1="910.7" x2="186.88" y2="913" stroke="#9a9a9a" stroke-width="0.55" />
<line x1="189.31" y1="910.7" x2="189.31" y2="913" stroke="#9a9a9a" stroke-width="0.55" />
<line x1="191.74" y1="910.7" x2="191.74" y2="913" stroke="#9a9a9a" stroke-width="0.55" />
<line x1="194.17" y1="910.7" x2="194.17" y2="913" stroke="#9a9a9a" stroke-width="0.55" />
<line x1="196.6" y1="910.7" x2="196.6" y2="914.7" stroke="#9a9a9a" stroke-width="0.55" />
<line x1="199.03" y1="910.7" x2="199.03" y2="913" stroke="#9a9a9a" stroke-width="0.55" />
<line x1="201.46" y1="910.7" x2="201.46" y2="913" stroke="#9a9a9a" stroke-width="0.55" />
<line x1="203.89" y1="910.7" x2="203.89" y2="913" stroke="#9a9a9a" stroke-width="0.55" />
<line x1="206.32" y1="910.7" x2="206.32" y2="913" stroke="#9a9a9a" stroke-width="0.55" />
<line x1="208.75" y1="910.7" x2="208.75" y2="914.7" stroke="#9a9a9a" stroke-width="0.55" />
<line x1="211.18" y1="910.7" x2="211.18" y2="913" stroke="#9a9a9a" stroke-width="0.55" />
<line x1="213.61" y1="910.7" x2="213.61" y2="913" stroke="#9a9a9a" stroke-width="0.55" />
<line x1="216.04" y1="910.7" x2="216.04" y2="913" stroke="#9a9a9a" stroke-width="0.55" />
<line x1="218.47" y1="910.7" x2="218.47" y2="913" stroke="#9a9a9a" stroke-width="0.55" />
<line x1="220.9" y1="910.7" x2="220.9" y2="914.7" stroke="#9a9a9a" stroke-width="0.55" />
<line x1="223.33" y1="910.7" x2="223.33" y2="913" stroke="#9a9a9a" stroke-width="0.55" />
<line x1="225.76" y1="910.7" x2="225.76" y2="913" stroke="#9a9a9a" stroke-width="0.55" />
<line x1="228.19" y1="910.7" x2="228.19" y2="913" stroke="#9a9a9a" stroke-width="0.55" />
<line x1="230.62" y1="910.7" x2="230.62" y2="913" stroke="#9a9a9a" stroke-width="0.55" />
<line x1="233.05" y1="910.7" x2="233.05" y2="914.7" stroke="#9a9a9a" stroke-width="0.55" />
<line x1="235.48" y1="910.7" x2="235.48" y2="913" stroke="#9a9a9a" stroke-width="0.55" />
<line x1="237.91" y1="910.7" x2="237.91" y2="913" stroke="#9a9a9a" stroke-width="0.55" />
<line x1="240.34" y1="910.7" x2="240.34" y2="913" stroke="#9a9a9a" stroke-width="0.55" />
<line x1="242.77" y1="910.7" x2="242.77" y2="913" stroke="#9a9a9a" stroke-width="0.55" />
<line x1="245.2" y1="910.7" x2="245.2" y2="914.7" stroke="#9a9a9a" stroke-width="0.55" />
<line x1="247.63" y1="910.7" x2="247.63" y2="913" stroke="#9a9a9a" stroke-width="0.55" />
<line x1="250.06" y1="910.7" x2="250.06" y2="913" stroke="#9a9a9a" stroke-width="0.55" />
<line x1="252.49" y1="910.7" x2="252.49" y2="913" stroke="#9a9a9a" stroke-width="0.55" />
<line x1="254.92" y1="910.7" x2="254.92" y2="913" stroke="#9a9a9a" stroke-width="0.55" />
<text x="150.5" y="922" font-size="5.6" text-anchor="middle" fill="#2e2e2e" font-family="Liberation Serif">-1</text>
<text x="165.8" y="922" font-size="5.6" text-anchor="middle" fill="#2e2e2e" font-family="Liberation Serif">2</text>
<text x="176.6" y="922" font-size="5.6" text-anchor="middle" fill="#2e2e2e" font-family="Liberation Serif">3</text>
<text x="187.4" y="922" font-size="5.6" text-anchor="middle" fill="#2e2e2e" font-family="Liberation Serif">4</text>
<text x="198.2" y="922" font-size="5.6" text-anchor="middle" fill="#2e2e2e" font-family="Liberation Serif">5</text>
<text x="209" y="922" font-size="5.6" text-anchor="middle" fill="#2e2e2e" font-family="Liberation Serif">6</text>
<text x="219.8" y="922" font-size="5.6" text-anchor="middle" fill="#2e2e2e" font-family="Liberation Serif">7</text>
<text x="230.6" y="922" font-size="5.6" text-anchor="middle" fill="#2e2e2e" font-family="Liberation Serif">8</text>
<text x="241.4" y="922" font-size="5.6" text-anchor="middle" fill="#2e2e2e" font-family="Liberation Serif">9</text>
<text x="252.2" y="922" font-size="5.6" text-anchor="middle" fill="#2e2e2e" font-family="Liberation Serif">1</text>
<path d="M152,676.4 C170,677.4 190,675.4 230.6,676.9" fill="none" stroke="#c9a17e" stroke-width="3.4" stroke-linecap="round"/>
<path d="M152,676.4 C170,677.4 190,675.4 230.6,676.9" fill="none" stroke="#d9b394" stroke-width="1.4" stroke-linecap="round"/>
<ellipse cx="151.5" cy="669.5" rx="6.8" ry="9.2" fill="#6a5a2c"/>
<ellipse cx="154.5" cy="664.5" rx="5" ry="4.2" fill="#76642f"/>
<ellipse cx="156" cy="673.5" rx="3.5" ry="3.2" fill="#5e4f26"/>
<path d="M152,728.8 C170,729.8 190,727.8 224,729.3" fill="none" stroke="#c9a17e" stroke-width="3.4" stroke-linecap="round"/>
<path d="M152,728.8 C170,729.8 190,727.8 224,729.3" fill="none" stroke="#d9b394" stroke-width="1.4" stroke-linecap="round"/>
<ellipse cx="151.5" cy="723.5" rx="6.8" ry="9.2" fill="#6a5a2c"/>
<ellipse cx="154.5" cy="718.5" rx="5" ry="4.2" fill="#76642f"/>
<ellipse cx="156" cy="727.5" rx="3.5" ry="3.2" fill="#5e4f26"/>
<path d="M152,779 C170,780 190,778 209.3,779.5" fill="none" stroke="#c9a17e" stroke-width="3.4" stroke-linecap="round"/>
<path d="M152,779 C170,780 190,778 209.3,779.5" fill="none" stroke="#d9b394" stroke-width="1.4" stroke-linecap="round"/>
<ellipse cx="151.5" cy="772" rx="6.8" ry="9.2" fill="#6a5a2c"/>
<ellipse cx="154.5" cy="767" rx="5" ry="4.2" fill="#76642f"/>
<ellipse cx="156" cy="776" rx="3.5" ry="3.2" fill="#5e4f26"/>
<path d="M152,822.6 C170,823.6 190,821.6 192.4,823.1" fill="none" stroke="#c9a17e" stroke-width="3.4" stroke-linecap="round"/>
<path d="M152,822.6 C170,823.6 190,821.6 192.4,823.1" fill="none" stroke="#d9b394" stroke-width="1.4" stroke-linecap="round"/>
<ellipse cx="151.5" cy="819" rx="6.8" ry="9.2" fill="#6a5a2c"/>
<ellipse cx="154.5" cy="814" rx="5" ry="4.2" fill="#76642f"/>
<ellipse cx="156" cy="823" rx="3.5" ry="3.2" fill="#5e4f26"/>
<path d="M152,885.6 C170,886.6 190,884.6 243,886.1" fill="none" stroke="#c9a17e" stroke-width="3.4" stroke-linecap="round"/>
<path d="M152,885.6 C170,886.6 190,884.6 243,886.1" fill="none" stroke="#d9b394" stroke-width="1.4" stroke-linecap="round"/>
<ellipse cx="151.5" cy="878.3" rx="6.8" ry="9.2" fill="#6a5a2c"/>
<ellipse cx="154.5" cy="873.3" rx="5" ry="4.2" fill="#76642f"/>
<ellipse cx="156" cy="882.3" rx="3.5" ry="3.2" fill="#5e4f26"/>
<text x="128.3" y="677.5" font-size="17.5" text-anchor="end" fill="#231815" >DSS+PP@Rut</text>
<text x="128.3" y="731.5" font-size="17.5" text-anchor="end" fill="#231815" >DSS+P@Rut</text>
<text x="128.3" y="779.2" font-size="17.5" text-anchor="end" fill="#231815" >DSS+Rut</text>
<text x="123.8" y="830" font-size="17.5" text-anchor="end" fill="#231815" >DSS</text>
<text x="128.3" y="889.7" font-size="17.5" text-anchor="end" fill="#231815" >Control</text>
<line x1="329.2" y1="648.3" x2="329.2" y2="892.5" stroke="#000" stroke-width="2" />
<line x1="328.2" y1="891.8" x2="592" y2="891.8" stroke="#000" stroke-width="2" />
<line x1="319.3" y1="891.5" x2="329.2" y2="891.5" stroke="#000" stroke-width="2" />
<text x="317" y="897.5" font-size="16.5" text-anchor="end" fill="#000" >0</text>
<line x1="319.3" y1="843.06" x2="329.2" y2="843.06" stroke="#000" stroke-width="2" />
<text x="317" y="849.06" font-size="16.5" text-anchor="end" fill="#000" >2</text>
<line x1="319.3" y1="794.62" x2="329.2" y2="794.62" stroke="#000" stroke-width="2" />
<text x="317" y="800.62" font-size="16.5" text-anchor="end" fill="#000" >4</text>
<line x1="319.3" y1="746.18" x2="329.2" y2="746.18" stroke="#000" stroke-width="2" />
<text x="317" y="752.18" font-size="16.5" text-anchor="end" fill="#000" >6</text>
<line x1="319.3" y1="697.74" x2="329.2" y2="697.74" stroke="#000" stroke-width="2" />
<text x="317" y="703.74" font-size="16.5" text-anchor="end" fill="#000" >8</text>
<line x1="319.3" y1="649.3" x2="329.2" y2="649.3" stroke="#000" stroke-width="2" />
<text x="317" y="655.3" font-size="16.5" text-anchor="end" fill="#000" >10</text>
<text transform="translate(298,759.5) rotate(-90)" x="0" y="0" font-size="19.8" text-anchor="middle" fill="#000" >Length of colon (cm)</text>
<rect x="346.6" y="684.42" width="30" height="207.08" fill="#969696" stroke="#1a1a1a" stroke-width="2" />
<circle cx="354" cy="664" r="3.8" fill="#3a3a3a" />
<circle cx="369.2" cy="664" r="3.8" fill="#3a3a3a" />
<circle cx="362" cy="690.7" r="3.8" fill="#3a3a3a" />
<circle cx="362" cy="697.9" r="3.8" fill="#3a3a3a" />
<circle cx="362" cy="705.9" r="3.8" fill="#3a3a3a" />
<line x1="361.6" y1="665.04" x2="361.6" y2="703.79" stroke="#111" stroke-width="2" />
<line x1="354.3" y1="665.04" x2="368.9" y2="665.04" stroke="#111" stroke-width="2" />
<line x1="354.3" y1="703.79" x2="368.9" y2="703.79" stroke="#111" stroke-width="2" />
<line x1="361.6" y1="891.8" x2="361.6" y2="901.3" stroke="#000" stroke-width="2" />
<text transform="translate(369.6,913.9) rotate(-45)" x="0" y="0" font-size="18.1" text-anchor="end">Control</text>
<rect x="395.8" y="774.03" width="30" height="117.47" fill="#8aaeca" stroke="#173f57" stroke-width="2" />
<circle cx="403.3" cy="758.1" r="3.8" fill="#1f6499" />
<circle cx="418.8" cy="763.5" r="3.8" fill="#1f6499" />
<circle cx="403.3" cy="767.5" r="3.8" fill="#1f6499" />
<circle cx="410.8" cy="775.5" r="3.8" fill="#1f6499" />
<circle cx="410.8" cy="804.8" r="3.8" fill="#1f6499" />
<line x1="410.8" y1="755.87" x2="410.8" y2="792.2" stroke="#173f57" stroke-width="2" />
<line x1="403.5" y1="755.87" x2="418.1" y2="755.87" stroke="#173f57" stroke-width="2" />
<line x1="403.5" y1="792.2" x2="418.1" y2="792.2" stroke="#173f57" stroke-width="2" />
<line x1="410.8" y1="891.8" x2="410.8" y2="901.3" stroke="#000" stroke-width="2" />
<text transform="translate(412.7,918.9) rotate(-45)" x="0" y="0" font-size="18.1" text-anchor="end">DSS</text>
<rect x="445" y="743.76" width="30" height="147.74" fill="#fde8a5" stroke="#7f5f28" stroke-width="2" />
<circle cx="459.9" cy="710.1" r="3.8" fill="#f6c443" />
<circle cx="459.9" cy="732" r="3.8" fill="#f6c443" />
<circle cx="459.9" cy="741.9" r="3.8" fill="#f6c443" />
<circle cx="452.7" cy="768.5" r="3.8" fill="#f6c443" />
<circle cx="467.3" cy="765.9" r="3.8" fill="#f6c443" />
<line x1="460" y1="719.54" x2="460" y2="767.98" stroke="#7f5f28" stroke-width="2" />
<line x1="452.7" y1="719.54" x2="467.3" y2="719.54" stroke="#7f5f28" stroke-width="2" />
<line x1="452.7" y1="767.98" x2="467.3" y2="767.98" stroke="#7f5f28" stroke-width="2" />
<line x1="460" y1="891.8" x2="460" y2="901.3" stroke="#000" stroke-width="2" />
<text transform="translate(458.6,919.5) rotate(-45)" x="0" y="0" font-size="18.1" text-anchor="end">DSS+Rut</text>
<rect x="494.2" y="738.19" width="30" height="153.31" fill="#e2f0e5" stroke="#3f7069" stroke-width="2" />
<circle cx="502" cy="722.1" r="3.8" fill="#c3e2ca" />
<circle cx="516.7" cy="722.1" r="3.8" fill="#c3e2ca" />
<circle cx="509.5" cy="732" r="3.8" fill="#c3e2ca" />
<circle cx="509.5" cy="746.1" r="3.8" fill="#c3e2ca" />
<circle cx="509.5" cy="765.9" r="3.8" fill="#c3e2ca" />
<line x1="509.2" y1="719.54" x2="509.2" y2="756.84" stroke="#3f7069" stroke-width="2" />
<line x1="501.9" y1="719.54" x2="516.5" y2="719.54" stroke="#3f7069" stroke-width="2" />
<line x1="501.9" y1="756.84" x2="516.5" y2="756.84" stroke="#3f7069" stroke-width="2" />
<line x1="509.2" y1="891.8" x2="509.2" y2="901.3" stroke="#000" stroke-width="2" />
<text transform="translate(513.3,914.5) rotate(-45)" x="0" y="0" font-size="18.1" text-anchor="end">DSS+P@Rut</text>
<rect x="543.4" y="715.18" width="30" height="176.32" fill="#fcf4dc" stroke="#a89c4a" stroke-width="2" />
<circle cx="558" cy="693.3" r="3.8" fill="#f4e8b8" />
<circle cx="551.3" cy="714.7" r="3.8" fill="#f4e8b8" />
<circle cx="565.5" cy="710.1" r="3.8" fill="#f4e8b8" />
<circle cx="551.3" cy="729.3" r="3.8" fill="#f4e8b8" />
<circle cx="565.5" cy="727.2" r="3.8" fill="#f4e8b8" />
<line x1="558.4" y1="700.65" x2="558.4" y2="729.71" stroke="#a89c4a" stroke-width="2" />
<line x1="551.1" y1="700.65" x2="565.7" y2="700.65" stroke="#a89c4a" stroke-width="2" />
<line x1="551.1" y1="729.71" x2="565.7" y2="729.71" stroke="#a89c4a" stroke-width="2" />
<line x1="558.4" y1="891.8" x2="558.4" y2="901.3" stroke="#000" stroke-width="2" />
<text transform="translate(562.8,915.1) rotate(-45)" x="0" y="0" font-size="18.1" text-anchor="end">DSS+PP@Rut</text>
<line x1="355.9" y1="654.7" x2="396.7" y2="654.7" stroke="#000" stroke-width="2" />
<line x1="418.5" y1="654.7" x2="550.5" y2="654.7" stroke="#000" stroke-width="2" />
<path d="M359.4,640 L368.6,640 M361.7,636.02 L366.3,643.98 M366.3,636.02 L361.7,643.98 " fill="none" stroke="#000" stroke-width="1.8" />
<path d="M371.4,640 L380.6,640 M373.7,636.02 L378.3,643.98 M378.3,636.02 L373.7,643.98 " fill="none" stroke="#000" stroke-width="1.8" />
<path d="M383.4,640 L392.6,640 M385.7,636.02 L390.3,643.98 M390.3,636.02 L385.7,643.98 " fill="none" stroke="#000" stroke-width="1.8" />
<path d="M467.5,640 L476.7,640 M469.8,636.02 L474.4,643.98 M474.4,636.02 L469.8,643.98 " fill="none" stroke="#000" stroke-width="1.8" />
<path d="M479.8,640 L489,640 M482.1,636.02 L486.7,643.98 M486.7,636.02 L482.1,643.98 " fill="none" stroke="#000" stroke-width="1.8" />
<path d="M492.1,640 L501.3,640 M494.4,636.02 L499,643.98 M499,636.02 L494.4,643.98 " fill="none" stroke="#000" stroke-width="1.8" />
<text x="609.5" y="638.2" font-size="30.5" text-anchor="start" fill="#000" >E</text>
<line x1="706.9" y1="664.3" x2="706.9" y2="946.7" stroke="#000" stroke-width="2" />
<line x1="705.9" y1="945.7" x2="1170" y2="945.7" stroke="#000" stroke-width="2" />
<line x1="699.7" y1="945.7" x2="706.9" y2="945.7" stroke="#000" stroke-width="2" />
<text x="696" y="952.6" font-size="19.6" text-anchor="end" fill="#000" >0</text>
<line x1="699.7" y1="875.6" x2="706.9" y2="875.6" stroke="#000" stroke-width="2" />
<text x="696" y="882.5" font-size="19.6" text-anchor="end" fill="#000" >2</text>
<line x1="699.7" y1="805.5" x2="706.9" y2="805.5" stroke="#000" stroke-width="2" />
<text x="696" y="812.4" font-size="19.6" text-anchor="end" fill="#000" >4</text>
<line x1="699.7" y1="735.4" x2="706.9" y2="735.4" stroke="#000" stroke-width="2" />
<text x="696" y="742.3" font-size="19.6" text-anchor="end" fill="#000" >6</text>
<line x1="699.7" y1="665.3" x2="706.9" y2="665.3" stroke="#000" stroke-width="2" />
<text x="696" y="672.2" font-size="19.6" text-anchor="end" fill="#000" >8</text>
<text transform="translate(662.8,811) rotate(-90)" x="0" y="0" font-size="19.5" text-anchor="middle" fill="#000" >Precent (%)</text>
<rect x="721.3" y="926.32" width="13.86" height="19.38" fill="#969696" stroke="#222" stroke-width="1.2" />
<rect x="736.36" y="923.87" width="13.86" height="21.83" fill="#8aaeca" stroke="#173f57" stroke-width="1.2" />
<rect x="751.42" y="929.48" width="13.86" height="16.22" fill="#fde8a5" stroke="#7f5f28" stroke-width="1.2" />
<rect x="766.48" y="924.92" width="13.86" height="20.78" fill="#e2f0e5" stroke="#3f7069" stroke-width="1.2" />
<rect x="781.54" y="926.67" width="13.86" height="19.03" fill="#fcf4dc" stroke="#a89c4a" stroke-width="1.2" />
<line x1="728.23" y1="923.97" x2="728.23" y2="927.47" stroke="#111" stroke-width="1.8" />
<line x1="724.23" y1="923.97" x2="732.23" y2="923.97" stroke="#111" stroke-width="1.8" />
<line x1="724.23" y1="927.47" x2="732.23" y2="927.47" stroke="#111" stroke-width="1.8" />
<line x1="743.29" y1="919.06" x2="743.29" y2="927.47" stroke="#0f3a4c" stroke-width="1.8" />
<line x1="739.29" y1="919.06" x2="747.29" y2="919.06" stroke="#0f3a4c" stroke-width="1.8" />
<line x1="739.29" y1="927.47" x2="747.29" y2="927.47" stroke="#0f3a4c" stroke-width="1.8" />
<line x1="758.35" y1="926.77" x2="758.35" y2="930.98" stroke="#8a6a2a" stroke-width="1.8" />
<line x1="754.35" y1="926.77" x2="762.35" y2="926.77" stroke="#8a6a2a" stroke-width="1.8" />
<line x1="754.35" y1="930.98" x2="762.35" y2="930.98" stroke="#8a6a2a" stroke-width="1.8" />
<line x1="773.41" y1="922.92" x2="773.41" y2="925.72" stroke="#4b7d76" stroke-width="1.8" />
<line x1="769.41" y1="922.92" x2="777.41" y2="922.92" stroke="#4b7d76" stroke-width="1.8" />
<line x1="769.41" y1="925.72" x2="777.41" y2="925.72" stroke="#4b7d76" stroke-width="1.8" />
<line x1="788.47" y1="923.27" x2="788.47" y2="928.88" stroke="#a99b4b" stroke-width="1.8" />
<line x1="784.47" y1="923.27" x2="792.47" y2="923.27" stroke="#a99b4b" stroke-width="1.8" />
<line x1="784.47" y1="928.88" x2="792.47" y2="928.88" stroke="#a99b4b" stroke-width="1.8" />
<line x1="757.8" y1="945.7" x2="757.8" y2="953.7" stroke="#000" stroke-width="2" />
<text x="749.1" y="979.4" font-size="19.5" text-anchor="middle" fill="#000" >Heart</text>
<rect x="811.2" y="732.5" width="13.86" height="213.2" fill="#969696" stroke="#222" stroke-width="1.2" />
<rect x="826.26" y="713.22" width="13.86" height="232.48" fill="#8aaeca" stroke="#173f57" stroke-width="1.2" />
<rect x="841.32" y="749.32" width="13.86" height="196.38" fill="#fde8a5" stroke="#7f5f28" stroke-width="1.2" />
<rect x="856.38" y="698.15" width="13.86" height="247.55" fill="#e2f0e5" stroke="#3f7069" stroke-width="1.2" />
<rect x="871.44" y="723.03" width="13.86" height="222.67" fill="#fcf4dc" stroke="#a89c4a" stroke-width="1.2" />
<line x1="818.13" y1="718.93" x2="818.13" y2="744.86" stroke="#111" stroke-width="1.8" />
<line x1="814.13" y1="718.93" x2="822.13" y2="718.93" stroke="#111" stroke-width="1.8" />
<line x1="814.13" y1="744.86" x2="822.13" y2="744.86" stroke="#111" stroke-width="1.8" />
<line x1="833.19" y1="695.09" x2="833.19" y2="730.14" stroke="#0f3a4c" stroke-width="1.8" />
<line x1="829.19" y1="695.09" x2="837.19" y2="695.09" stroke="#0f3a4c" stroke-width="1.8" />
<line x1="829.19" y1="730.14" x2="837.19" y2="730.14" stroke="#0f3a4c" stroke-width="1.8" />
<line x1="848.25" y1="716.47" x2="848.25" y2="780.97" stroke="#8a6a2a" stroke-width="1.8" />
<line x1="844.25" y1="716.47" x2="852.25" y2="716.47" stroke="#8a6a2a" stroke-width="1.8" />
<line x1="844.25" y1="780.97" x2="852.25" y2="780.97" stroke="#8a6a2a" stroke-width="1.8" />
<line x1="863.31" y1="678.97" x2="863.31" y2="716.12" stroke="#4b7d76" stroke-width="1.8" />
<line x1="859.31" y1="678.97" x2="867.31" y2="678.97" stroke="#4b7d76" stroke-width="1.8" />
<line x1="859.31" y1="716.12" x2="867.31" y2="716.12" stroke="#4b7d76" stroke-width="1.8" />
<line x1="878.37" y1="702.45" x2="878.37" y2="742.41" stroke="#a99b4b" stroke-width="1.8" />
<line x1="874.37" y1="702.45" x2="882.37" y2="702.45" stroke="#a99b4b" stroke-width="1.8" />
<line x1="874.37" y1="742.41" x2="882.37" y2="742.41" stroke="#a99b4b" stroke-width="1.8" />
<line x1="848" y1="945.7" x2="848" y2="953.7" stroke="#000" stroke-width="2" />
<text x="840" y="979.4" font-size="19.5" text-anchor="middle" fill="#000" >Liver</text>
<rect x="901.2" y="932.98" width="13.86" height="12.72" fill="#969696" stroke="#222" stroke-width="1.2" />
<rect x="916.26" y="931.23" width="13.86" height="14.47" fill="#8aaeca" stroke="#173f57" stroke-width="1.2" />
<rect x="931.32" y="934.38" width="13.86" height="11.32" fill="#fde8a5" stroke="#7f5f28" stroke-width="1.2" />
<rect x="946.38" y="925.97" width="13.86" height="19.73" fill="#e2f0e5" stroke="#3f7069" stroke-width="1.2" />
<rect x="961.44" y="922.82" width="13.86" height="22.88" fill="#fcf4dc" stroke="#a89c4a" stroke-width="1.2" />
<line x1="908.13" y1="931.68" x2="908.13" y2="933.08" stroke="#111" stroke-width="1.8" />
<line x1="904.13" y1="931.68" x2="912.13" y2="931.68" stroke="#111" stroke-width="1.8" />
<line x1="904.13" y1="933.08" x2="912.13" y2="933.08" stroke="#111" stroke-width="1.8" />
<line x1="923.19" y1="928.18" x2="923.19" y2="933.08" stroke="#0f3a4c" stroke-width="1.8" />
<line x1="919.19" y1="928.18" x2="927.19" y2="928.18" stroke="#0f3a4c" stroke-width="1.8" />
<line x1="919.19" y1="933.08" x2="927.19" y2="933.08" stroke="#0f3a4c" stroke-width="1.8" />
<line x1="938.25" y1="929.23" x2="938.25" y2="938.34" stroke="#8a6a2a" stroke-width="1.8" />
<line x1="934.25" y1="929.23" x2="942.25" y2="929.23" stroke="#8a6a2a" stroke-width="1.8" />
<line x1="934.25" y1="938.34" x2="942.25" y2="938.34" stroke="#8a6a2a" stroke-width="1.8" />
<line x1="953.31" y1="924.32" x2="953.31" y2="926.42" stroke="#4b7d76" stroke-width="1.8" />
<line x1="949.31" y1="924.32" x2="957.31" y2="924.32" stroke="#4b7d76" stroke-width="1.8" />
<line x1="949.31" y1="926.42" x2="957.31" y2="926.42" stroke="#4b7d76" stroke-width="1.8" />
<line x1="968.37" y1="917.66" x2="968.37" y2="926.77" stroke="#a99b4b" stroke-width="1.8" />
<line x1="964.37" y1="917.66" x2="972.37" y2="917.66" stroke="#a99b4b" stroke-width="1.8" />
<line x1="964.37" y1="926.77" x2="972.37" y2="926.77" stroke="#a99b4b" stroke-width="1.8" />
<line x1="938" y1="945.7" x2="938" y2="953.7" stroke="#000" stroke-width="2" />
<text x="931" y="979.4" font-size="19.5" text-anchor="middle" fill="#000" >Spleen</text>
<rect x="991.8" y="922.12" width="13.86" height="23.58" fill="#969696" stroke="#222" stroke-width="1.2" />
<rect x="1006.86" y="918.96" width="13.86" height="26.74" fill="#8aaeca" stroke="#173f57" stroke-width="1.2" />
<rect x="1021.92" y="919.66" width="13.86" height="26.04" fill="#fde8a5" stroke="#7f5f28" stroke-width="1.2" />
<rect x="1036.98" y="918.96" width="13.86" height="26.74" fill="#e2f0e5" stroke="#3f7069" stroke-width="1.2" />
<rect x="1052.04" y="913.7" width="13.86" height="32" fill="#fcf4dc" stroke="#a89c4a" stroke-width="1.2" />
<line x1="998.73" y1="916.26" x2="998.73" y2="926.77" stroke="#111" stroke-width="1.8" />
<line x1="994.73" y1="916.26" x2="1002.73" y2="916.26" stroke="#111" stroke-width="1.8" />
<line x1="994.73" y1="926.77" x2="1002.73" y2="926.77" stroke="#111" stroke-width="1.8" />
<line x1="1013.79" y1="916.26" x2="1013.79" y2="920.46" stroke="#0f3a4c" stroke-width="1.8" />
<line x1="1009.79" y1="916.26" x2="1017.79" y2="916.26" stroke="#0f3a4c" stroke-width="1.8" />
<line x1="1009.79" y1="920.46" x2="1017.79" y2="920.46" stroke="#0f3a4c" stroke-width="1.8" />
<line x1="1028.85" y1="913.45" x2="1028.85" y2="924.67" stroke="#8a6a2a" stroke-width="1.8" />
<line x1="1024.85" y1="913.45" x2="1032.85" y2="913.45" stroke="#8a6a2a" stroke-width="1.8" />
<line x1="1024.85" y1="924.67" x2="1032.85" y2="924.67" stroke="#8a6a2a" stroke-width="1.8" />
<line x1="1043.91" y1="916.26" x2="1043.91" y2="920.46" stroke="#4b7d76" stroke-width="1.8" />
<line x1="1039.91" y1="916.26" x2="1047.91" y2="916.26" stroke="#4b7d76" stroke-width="1.8" />
<line x1="1039.91" y1="920.46" x2="1047.91" y2="920.46" stroke="#4b7d76" stroke-width="1.8" />
<line x1="1058.97" y1="903.64" x2="1058.97" y2="922.57" stroke="#a99b4b" stroke-width="1.8" />
<line x1="1054.97" y1="903.64" x2="1062.97" y2="903.64" stroke="#a99b4b" stroke-width="1.8" />
<line x1="1054.97" y1="922.57" x2="1062.97" y2="922.57" stroke="#a99b4b" stroke-width="1.8" />
<line x1="1028" y1="945.7" x2="1028" y2="953.7" stroke="#000" stroke-width="2" />
<text x="1021.6" y="979.4" font-size="19.5" text-anchor="middle" fill="#000" >Lung</text>
<rect x="1081.6" y="896.18" width="13.86" height="49.52" fill="#969696" stroke="#222" stroke-width="1.2" />
<rect x="1096.66" y="887.07" width="13.86" height="58.63" fill="#8aaeca" stroke="#173f57" stroke-width="1.2" />
<rect x="1111.72" y="896.18" width="13.86" height="49.52" fill="#fde8a5" stroke="#7f5f28" stroke-width="1.2" />
<rect x="1126.78" y="888.12" width="13.86" height="57.58" fill="#e2f0e5" stroke="#3f7069" stroke-width="1.2" />
<rect x="1141.84" y="891.62" width="13.86" height="54.08" fill="#fcf4dc" stroke="#a89c4a" stroke-width="1.2" />
<line x1="1088.53" y1="893.12" x2="1088.53" y2="898.03" stroke="#111" stroke-width="1.8" />
<line x1="1084.53" y1="893.12" x2="1092.53" y2="893.12" stroke="#111" stroke-width="1.8" />
<line x1="1084.53" y1="898.03" x2="1092.53" y2="898.03" stroke="#111" stroke-width="1.8" />
<line x1="1103.59" y1="880.51" x2="1103.59" y2="892.42" stroke="#0f3a4c" stroke-width="1.8" />
<line x1="1099.59" y1="880.51" x2="1107.59" y2="880.51" stroke="#0f3a4c" stroke-width="1.8" />
<line x1="1099.59" y1="892.42" x2="1107.59" y2="892.42" stroke="#0f3a4c" stroke-width="1.8" />
<line x1="1118.65" y1="889.27" x2="1118.65" y2="901.89" stroke="#8a6a2a" stroke-width="1.8" />
<line x1="1114.65" y1="889.27" x2="1122.65" y2="889.27" stroke="#8a6a2a" stroke-width="1.8" />
<line x1="1114.65" y1="901.89" x2="1122.65" y2="901.89" stroke="#8a6a2a" stroke-width="1.8" />
<line x1="1133.71" y1="884.01" x2="1133.71" y2="891.02" stroke="#4b7d76" stroke-width="1.8" />
<line x1="1129.71" y1="884.01" x2="1137.71" y2="884.01" stroke="#4b7d76" stroke-width="1.8" />
<line x1="1129.71" y1="891.02" x2="1137.71" y2="891.02" stroke="#4b7d76" stroke-width="1.8" />
<line x1="1148.77" y1="887.17" x2="1148.77" y2="894.88" stroke="#a99b4b" stroke-width="1.8" />
<line x1="1144.77" y1="887.17" x2="1152.77" y2="887.17" stroke="#a99b4b" stroke-width="1.8" />
<line x1="1144.77" y1="894.88" x2="1152.77" y2="894.88" stroke="#a99b4b" stroke-width="1.8" />
<line x1="1118.5" y1="945.7" x2="1118.5" y2="953.7" stroke="#000" stroke-width="2" />
<text x="1113.3" y="979.4" font-size="19.5" text-anchor="middle" fill="#000" >Kidney</text>
<rect x="1018.6" y="693.6" width="28.6" height="10.2" fill="#969696" stroke="#222" stroke-width="1.2" />
<text x="1065" y="704.7" font-size="18.8" text-anchor="start" fill="#000" >Conturl</text>
<rect x="1018.6" y="719.9" width="28.6" height="10.2" fill="#8aaeca" stroke="#173f57" stroke-width="1.2" />
<text x="1065" y="731" font-size="18.8" text-anchor="start" fill="#000" >DSS</text>
<rect x="1018.6" y="747.9" width="28.6" height="10.2" fill="#fde8a5" stroke="#7f5f28" stroke-width="1.2" />
<text x="1065" y="758.7" font-size="18.8" text-anchor="start" fill="#000" >Rut</text>
<rect x="1018.6" y="773.9" width="28.6" height="10.2" fill="#e2f0e5" stroke="#3f7069" stroke-width="1.2" />
<text x="1065" y="784.7" font-size="18.8" text-anchor="start" fill="#000" >P@Rut</text>
<rect x="1018.6" y="800.2" width="28.6" height="10.2" fill="#fcf4dc" stroke="#a89c4a" stroke-width="1.2" />
<text x="1065" y="811.3" font-size="18.8" text-anchor="start" fill="#000" >PP@Rut</text>
<defs>
<filter id="blur1" x="-20%" y="-20%" width="140%" height="140%"><feGaussianBlur stdDeviation="0.9"/></filter>
<linearGradient id="cbar" x1="0" x2="0" y1="0" y2="1">
<stop offset="0" stop-color="#ff0000"/><stop offset="0.12" stop-color="#ff6a00"/><stop offset="0.21" stop-color="#ffff00"/>
<stop offset="0.3" stop-color="#a8ff00"/><stop offset="0.453" stop-color="#00ff00"/><stop offset="0.571" stop-color="#00ff80"/>
<stop offset="0.676" stop-color="#00ffff"/><stop offset="0.75" stop-color="#0080ff"/><stop offset="0.871" stop-color="#0000ff"/><stop offset="1" stop-color="#8000ff"/>
</linearGradient></defs>
<text x="0.5" y="1046.8" font-size="30.5" text-anchor="start" fill="#000" >F</text>
<rect x="30.2" y="1053.2" width="106.4" height="211.3" fill="#050505" stroke="none" stroke-width="0" />
<rect x="30.2" y="1269.3" width="106.4" height="211.7" fill="#050505" stroke="none" stroke-width="0" />
<rect x="141.6" y="1053.2" width="106.4" height="211.3" fill="#050505" stroke="none" stroke-width="0" />
<rect x="141.6" y="1269.3" width="106.4" height="211.7" fill="#050505" stroke="none" stroke-width="0" />
<rect x="253" y="1053.2" width="106.4" height="211.3" fill="#050505" stroke="none" stroke-width="0" />
<rect x="253" y="1269.3" width="106.4" height="211.7" fill="#050505" stroke="none" stroke-width="0" />
<rect x="364.1" y="1053.2" width="106.4" height="211.3" fill="#050505" stroke="none" stroke-width="0" />
<rect x="364.1" y="1269.3" width="106.4" height="211.7" fill="#050505" stroke="none" stroke-width="0" />
<rect x="475.6" y="1053.2" width="106.4" height="211.3" fill="#050505" stroke="none" stroke-width="0" />
<rect x="475.6" y="1269.3" width="106.4" height="211.7" fill="#050505" stroke="none" stroke-width="0" />
<rect x="587" y="1053.2" width="106.4" height="211.3" fill="#050505" stroke="none" stroke-width="0" />
<rect x="587" y="1269.3" width="106.4" height="211.7" fill="#050505" stroke="none" stroke-width="0" />
<text x="89" y="1040.8" font-size="19.5" text-anchor="middle" fill="#000" >0.5h</text>
<text x="200" y="1040.8" font-size="19.5" text-anchor="middle" fill="#000" >2h</text>
<text x="311" y="1040.8" font-size="19.5" text-anchor="middle" fill="#000" >4h</text>
<text x="421" y="1040.8" font-size="19.5" text-anchor="middle" fill="#000" >8h</text>
<text x="533" y="1040.8" font-size="19.5" text-anchor="middle" fill="#000" >12h</text>
<text x="643" y="1040.8" font-size="19.5" text-anchor="middle" fill="#000" >24h</text>
<text transform="translate(15.6,1156) rotate(-90)" x="0" y="0" font-size="20.5" text-anchor="middle" fill="#000" >DSS+P@Rut</text>
<text transform="translate(15.6,1364.5) rotate(-90)" x="0" y="0" font-size="20.5" text-anchor="middle" fill="#000" >DSS+PP@Rut</text>
<defs><filter id="heat" color-interpolation-filters="sRGB">
<feGaussianBlur in="SourceGraphic" stdDeviation="1.25" result="b"/>
<feComponentTransfer in="b"><feFuncR type="table" tableValues="0.035 0.035 0.035 0.035 0.035 0.035 0.035 0.035 0.128 0.221 0.314 0.407 0.500 0.456 0.412 0.368 0.324 0.280 0.236 0.192 0.148 0.104 0.060 0.016 0.000 0.000 0.000 0.000 0.000 0.000 0.000 0.000 0.000 0.000 0.000 0.000 0.000 0.000 0.000 0.000 0.000 0.000 0.000 0.000 0.000 0.000 0.000 0.000 0.000 0.000 0.000 0.000 0.000 0.000 0.000 0.000 0.000 0.000 0.000 0.000 0.000 0.042 0.091 0.140 0.189 0.238 0.287 0.336 0.385 0.435 0.484 0.533 0.582 0.631 0.677 0.720 0.763 0.806 0.849 0.892 0.935 0.978 1.000 1.000 1.000 1.000 1.000 1.000 1.000 1.000 1.000 1.000 1.000 1.000 1.000 1.000 1.000 1.000 1.000 1.000 1.000"/><feFuncG type="table" tableValues="0.035 0.035 0.035 0.035 0.035 0.035 0.035 0.035 0.028 0.021 0.014 0.007 0.000 0.000 0.000 0.000 0.000 0.000 0.000 0.000 0.000 0.000 0.000 0.000 0.030 0.077 0.124 0.171 0.218 0.265 0.312 0.359 0.406 0.453 0.500 0.577 0.654 0.730 0.807 0.884 0.961 1.000 1.000 1.000 1.000 1.000 1.000 1.000 1.000 1.000 1.000 1.000 1.000 1.000 1.000 1.000 1.000 1.000 1.000 1.000 1.000 1.000 1.000 1.000 1.000 1.000 1.000 1.000 1.000 1.000 1.000 1.000 1.000 1.000 1.000 1.000 1.000 1.000 1.000 1.000 1.000 1.000 0.965 0.892 0.818 0.745 0.672 0.599 0.525 0.452 0.398 0.358 0.318 0.278 0.239 0.199 0.159 0.119 0.080 0.040 0.000"/><feFuncB type="table" tableValues="0.035 0.035 0.035 0.035 0.035 0.035 0.035 0.035 0.228 0.421 0.614 0.807 1.000 1.000 1.000 1.000 1.000 1.000 1.000 1.000 1.000 1.000 1.000 1.000 1.000 1.000 1.000 1.000 1.000 1.000 1.000 1.000 1.000 1.000 1.000 1.000 1.000 1.000 1.000 1.000 1.000 0.974 0.919 0.865 0.811 0.757 0.703 0.649 0.595 0.541 0.488 0.440 0.392 0.344 0.295 0.247 0.199 0.151 0.103 0.055 0.007 0.000 0.000 0.000 0.000 0.000 0.000 0.000 0.000 0.000 0.000 0.000 0.000 0.000 0.000 0.000 0.000 0.000 0.000 0.000 0.000 0.000 0.000 0.000 0.000 0.000 0.000 0.000 0.000 0.000 0.000 0.000 0.000 0.000 0.000 0.000 0.000 0.000 0.000 0.000 0.000"/></feComponentTransfer>
</filter></defs>
<clipPath id="cp0"><rect x="30.2" y="1053.2" width="106.4" height="211.3"/></clipPath>
<g clip-path="url(#cp0)"><g filter="url(#heat)"><rect x="24.2" y="1047.2" width="118.4" height="223.3" fill="#000"/><path d="M70,1089 C72,1083 80,1083 86,1083 C92,1082 96,1084 96,1089 C96,1093 95,1095 93,1096" fill="none" stroke="rgb(40,40,40)" stroke-width="7.5" stroke-linecap="round" stroke-linejoin="round"/><path d="M84.5,1148 L87,1162" fill="none" stroke="rgb(40,40,40)" stroke-width="5" stroke-linecap="round" stroke-linejoin="round"/><path d="M72,1088 C75,1095 80,1103 84,1110" fill="none" stroke="rgb(42,42,42)" stroke-width="7" stroke-linecap="round" stroke-linejoin="round"/><circle cx="81.7" cy="1119.6" r="1.5" fill="rgb(43,43,43)"/></g><path d="M84,1112 C82,1118 80,1124 76,1131 C73,1137 72,1142 76,1146 C80,1149 86,1151 87,1158 C87,1165 83,1172 80,1180 C78,1190 77,1200 76,1212 C76,1220 79,1225 81,1227" fill="none" stroke="#3c3c3c" stroke-width="2.4" stroke-linecap="round" stroke-linejoin="round"/></g>
<clipPath id="cp1"><rect x="141.6" y="1053.2" width="106.4" height="211.3"/></clipPath>
<g clip-path="url(#cp1)"><g filter="url(#heat)"><rect x="135.6" y="1047.2" width="118.4" height="223.3" fill="#000"/><path d="M183,1093 C184,1087 190,1086 195,1087 C200,1084 210,1084 216,1088 C220,1092 220,1102 216,1106 C212,1110 206,1111 202,1108 C198,1106 196,1100 198,1096" fill="none" stroke="rgb(51,51,51)" stroke-width="9" stroke-linecap="round" stroke-linejoin="round"/><path d="M189.5,1154 L186,1168" fill="none" stroke="rgb(56,56,56)" stroke-width="5.5" stroke-linecap="round" stroke-linejoin="round"/><path d="M182,1181 L184,1201" fill="none" stroke="rgb(61,61,61)" stroke-width="6" stroke-linecap="round" stroke-linejoin="round"/><path d="M200,1108 C200,1114 198,1120 195,1126 C193,1130 191,1133 190,1135" fill="none" stroke="rgb(76,76,76)" stroke-width="7.5" stroke-linecap="round" stroke-linejoin="round"/><circle cx="214" cy="1099" r="3.5" fill="rgb(102,102,102)"/><path d="M201,1112 L200,1120" fill="none" stroke="rgb(102,102,102)" stroke-width="5" stroke-linecap="round" stroke-linejoin="round"/><circle cx="183" cy="1183" r="2.2" fill="rgb(107,107,107)"/><circle cx="184" cy="1194" r="2" fill="rgb(107,107,107)"/><circle cx="188.5" cy="1094" r="4.5" fill="rgb(115,115,115)"/></g><path d="M190,1136 L189,1151" fill="none" stroke="#3c3c3c" stroke-width="2.2" stroke-linecap="round" stroke-linejoin="round"/><path d="M186,1169 L182,1177" fill="none" stroke="#3c3c3c" stroke-width="2.2" stroke-linecap="round" stroke-linejoin="round"/><path d="M185,1203 C190,1207 193,1212 195,1224" fill="none" stroke="#3c3c3c" stroke-width="2.6" stroke-linecap="round" stroke-linejoin="round"/></g>
<clipPath id="cp2"><rect x="253" y="1053.2" width="106.4" height="211.3"/></clipPath>
<g clip-path="url(#cp2)"><g filter="url(#heat)"><rect x="247" y="1047.2" width="118.4" height="223.3" fill="#000"/><path d="M293,1100 L292,1115 C291,1130 292,1140 291,1150 C290,1160 294,1165 291,1172 C288,1180 288,1188 292,1194 C296,1200 296,1208 296,1214 C296,1218 297,1221 297,1222" fill="none" stroke="rgb(128,128,128)" stroke-width="6.5" stroke-linecap="round" stroke-linejoin="round"/><path d="M296,1095 C302,1091 312,1093 320,1094 C326,1095 329,1098 328,1103 C327,1107 324,1110 321,1111" fill="none" stroke="rgb(140,140,140)" stroke-width="9" stroke-linecap="round" stroke-linejoin="round"/><path d="M289,1185 L291,1192" fill="none" stroke="rgb(148,148,148)" stroke-width="6" stroke-linecap="round" stroke-linejoin="round"/><path d="M293,1102 L292,1150" fill="none" stroke="rgb(158,158,158)" stroke-width="6" stroke-linecap="round" stroke-linejoin="round"/><path d="M296,1096 C302,1092 308,1094 314,1095" fill="none" stroke="rgb(204,204,204)" stroke-width="9.5" stroke-linecap="round" stroke-linejoin="round"/><path d="M309,1096.5 L323,1097" fill="none" stroke="rgb(255,255,255)" stroke-width="6" stroke-linecap="round" stroke-linejoin="round"/></g></g>
<clipPath id="cp3"><rect x="364.1" y="1053.2" width="106.4" height="211.3"/></clipPath>
<g clip-path="url(#cp3)"><g filter="url(#heat)"><rect x="358.1" y="1047.2" width="118.4" height="223.3" fill="#000"/><path d="M407,1117 C409,1124 414,1128 413,1133 C411,1139 405,1143 403,1150 C402,1158 410,1162 411,1168 C411,1174 407,1178 408,1186 C409,1195 409,1205 409,1214" fill="none" stroke="rgb(89,89,89)" stroke-width="7.5" stroke-linecap="round" stroke-linejoin="round"/><path d="M403,1148 C402,1156 408,1162 411,1168 C411,1174 408,1178 408,1180" fill="none" stroke="rgb(128,128,128)" stroke-width="8" stroke-linecap="round" stroke-linejoin="round"/><path d="M412,1108 C418,1110 424,1115 431,1113 C436,1111 440,1108 440,1108" fill="none" stroke="rgb(128,128,128)" stroke-width="9" stroke-linecap="round" stroke-linejoin="round"/><circle cx="406" cy="1106" r="8" fill="rgb(153,153,153)"/><path d="M405,1143 L404,1147" fill="none" stroke="rgb(158,158,158)" stroke-width="6" stroke-linecap="round" stroke-linejoin="round"/><path d="M407,1115 C409,1120 411,1124 412,1128" fill="none" stroke="rgb(178,178,178)" stroke-width="6.5" stroke-linecap="round" stroke-linejoin="round"/><path d="M412.5,1133 L407,1140" fill="none" stroke="rgb(255,255,255)" stroke-width="6.5" stroke-linecap="round" stroke-linejoin="round"/></g></g>
<clipPath id="cp4"><rect x="475.6" y="1053.2" width="106.4" height="211.3"/></clipPath>
<g clip-path="url(#cp4)"><g filter="url(#heat)"><rect x="469.6" y="1047.2" width="118.4" height="223.3" fill="#000"/><path d="M524,1212 L525,1222" fill="none" stroke="rgb(56,56,56)" stroke-width="9" stroke-linecap="round" stroke-linejoin="round"/><path d="M528.7,1111 C524,1116 523,1122 525,1133 C524,1140 521,1145 523,1150 C526,1155 528,1159 527,1163 C525,1168 522,1172 522,1178 C520,1187 520,1195 522,1202 C524,1208 525,1214 525,1222" fill="none" stroke="rgb(76,76,76)" stroke-width="7" stroke-linecap="round" stroke-linejoin="round"/><path d="M521,1190 L522,1198" fill="none" stroke="rgb(107,107,107)" stroke-width="7" stroke-linecap="round" stroke-linejoin="round"/><path d="M522,1172 L521,1180" fill="none" stroke="rgb(115,115,115)" stroke-width="6" stroke-linecap="round" stroke-linejoin="round"/><circle cx="530" cy="1104" r="4" fill="rgb(148,148,148)"/><path d="M531,1107 C527,1104 525,1099 526,1092 C528,1085 536,1083 542,1085 C547,1088 548,1094 546,1100 C544,1104 540,1107 536,1106" fill="none" stroke="rgb(178,178,178)" stroke-width="11" stroke-linecap="round" stroke-linejoin="round"/><circle cx="541" cy="1088" r="2.5" fill="rgb(199,199,199)"/><circle cx="531" cy="1086.5" r="2.5" fill="rgb(204,204,204)"/><circle cx="545" cy="1099" r="2.5" fill="rgb(204,204,204)"/></g></g>
<clipPath id="cp5"><rect x="587" y="1053.2" width="106.4" height="211.3"/></clipPath>
<g clip-path="url(#cp5)"><g filter="url(#heat)"><rect x="581" y="1047.2" width="118.4" height="223.3" fill="#000"/><path d="M633,1200 L635,1224" fill="none" stroke="rgb(46,46,46)" stroke-width="5" stroke-linecap="round" stroke-linejoin="round"/><path d="M637,1101 C635,1108 635,1114 637,1118 C640,1122 644,1124 645,1130 C645,1138 642,1145 640,1150 C638,1157 635,1163 634,1170 C633,1180 633,1190 633,1200 C633,1210 634,1218 635,1224" fill="none" stroke="rgb(61,61,61)" stroke-width="6" stroke-linecap="round" stroke-linejoin="round"/><path d="M637,1101 C635,1108 635,1114 637,1118 C640,1122 644,1124 645,1130" fill="none" stroke="rgb(97,97,97)" stroke-width="6.5" stroke-linecap="round" stroke-linejoin="round"/><path d="M636,1097 L637,1102" fill="none" stroke="rgb(115,115,115)" stroke-width="7" stroke-linecap="round" stroke-linejoin="round"/><path d="M643,1094 C648,1089 655,1085 661,1087 C666,1090 665,1097 661,1100" fill="none" stroke="rgb(140,140,140)" stroke-width="9" stroke-linecap="round" stroke-linejoin="round"/><path d="M624,1091 C628,1086 637,1087 643,1092" fill="none" stroke="rgb(158,158,158)" stroke-width="13" stroke-linecap="round" stroke-linejoin="round"/><circle cx="636" cy="1092" r="4" fill="rgb(194,194,194)"/></g></g>
<clipPath id="cp6"><rect x="30.2" y="1269.3" width="106.4" height="211.7"/></clipPath>
<g clip-path="url(#cp6)"><g filter="url(#heat)"><rect x="24.2" y="1263.3" width="118.4" height="223.7" fill="#000"/><circle cx="80.8" cy="1415.5" r="1.4" fill="rgb(51,51,51)"/><circle cx="82.2" cy="1459.3" r="1.6" fill="rgb(51,51,51)"/><path d="M70,1301 C72,1296 78,1296 82,1297 C88,1295 95,1297 99,1302 C101,1306 100,1310 99,1311" fill="none" stroke="rgb(56,56,56)" stroke-width="9" stroke-linecap="round" stroke-linejoin="round"/><path d="M75,1306 C76,1314 73,1322 73,1330 C72,1338 72,1344 75,1350 C78,1356 80,1362 78,1370 C77,1376 76,1380 75.5,1383" fill="none" stroke="rgb(66,66,66)" stroke-width="7" stroke-linecap="round" stroke-linejoin="round"/><circle cx="96" cy="1303" r="3" fill="rgb(107,107,107)"/><circle cx="75.8" cy="1316" r="3" fill="rgb(115,115,115)"/></g><path d="M75.5,1384 C77,1395 80,1405 81,1415 C81,1425 79,1435 80,1445 C81,1452 82,1456 82,1460" fill="none" stroke="#3c3c3c" stroke-width="2.3" stroke-linecap="round" stroke-linejoin="round"/></g>
<clipPath id="cp7"><rect x="141.6" y="1269.3" width="106.4" height="211.7"/></clipPath>
<g clip-path="url(#cp7)"><g filter="url(#heat)"><rect x="135.6" y="1263.3" width="118.4" height="223.7" fill="#000"/><path d="M193.9,1328 C197,1334 200,1338 199,1344 C197,1352 192,1356 191,1362 C190,1368 192,1372 196,1378 C200,1383 198,1388 194,1393 C193,1400 194,1410 193,1420 C192,1428 191,1434 190.5,1440" fill="none" stroke="rgb(76,76,76)" stroke-width="7.5" stroke-linecap="round" stroke-linejoin="round"/><path d="M194,1395 L193.5,1406" fill="none" stroke="rgb(82,82,82)" stroke-width="6" stroke-linecap="round" stroke-linejoin="round"/><path d="M186,1323 C182,1314 186,1308 196,1308 C204,1308 213,1307 216,1314 C218,1322 214,1328 208,1327" fill="none" stroke="rgb(128,128,128)" stroke-width="10" stroke-linecap="round" stroke-linejoin="round"/><path d="M192,1366 C193,1372 196,1378 198,1383" fill="none" stroke="rgb(140,140,140)" stroke-width="8" stroke-linecap="round" stroke-linejoin="round"/><path d="M195,1329 L198,1336" fill="none" stroke="rgb(153,153,153)" stroke-width="7" stroke-linecap="round" stroke-linejoin="round"/><circle cx="188.5" cy="1318" r="4" fill="rgb(158,158,158)"/><circle cx="211" cy="1321" r="3.5" fill="rgb(158,158,158)"/><path d="M199,1346 C196,1352 193,1356 192,1361" fill="none" stroke="rgb(173,173,173)" stroke-width="8" stroke-linecap="round" stroke-linejoin="round"/></g></g>
<clipPath id="cp8"><rect x="253" y="1269.3" width="106.4" height="211.7"/></clipPath>
<g clip-path="url(#cp8)"><g filter="url(#heat)"><rect x="247" y="1263.3" width="118.4" height="223.7" fill="#000"/><path d="M302,1343 L302,1353 L303,1362 L303,1372 L304,1381 L305,1390 L305,1398 L304,1412 L304,1424 L304,1432 L304,1441" fill="none" stroke="rgb(115,115,115)" stroke-width="6" stroke-linecap="round" stroke-linejoin="round"/><circle cx="305.5" cy="1398" r="3" fill="rgb(122,122,122)"/><circle cx="302.1" cy="1343.5" r="3.5" fill="rgb(140,140,140)"/><path d="M305,1338 C304,1340 303,1342 302,1343" fill="none" stroke="rgb(140,140,140)" stroke-width="5" stroke-linecap="round" stroke-linejoin="round"/><circle cx="302.8" cy="1361.5" r="3" fill="rgb(158,158,158)"/><circle cx="302.8" cy="1369.6" r="2.5" fill="rgb(204,204,204)"/><circle cx="304.2" cy="1423.8" r="2.2" fill="rgb(204,204,204)"/><circle cx="304.2" cy="1380.7" r="2.2" fill="rgb(242,242,242)"/><ellipse cx="304.2" cy="1412.7" rx="2.2" ry="4" transform="rotate(0 304.2 1412.7)" fill="rgb(242,242,242)"/><ellipse cx="304.2" cy="1432" rx="2.2" ry="3.5" transform="rotate(0 304.2 1432)" fill="rgb(242,242,242)"/><path d="M301,1322 C304,1326 308,1328 311,1331 C313,1334 312,1337 310,1339" fill="none" stroke="rgb(247,247,247)" stroke-width="7" stroke-linecap="round" stroke-linejoin="round"/><path d="M298,1323 C297,1313 305,1310 314,1310 C322,1310 327,1316 326,1322 C325,1327 323,1329 321,1329" fill="none" stroke="rgb(255,255,255)" stroke-width="11.5" stroke-linecap="round" stroke-linejoin="round"/></g></g>
<clipPath id="cp9"><rect x="364.1" y="1269.3" width="106.4" height="211.7"/></clipPath>
<g clip-path="url(#cp9)"><g filter="url(#heat)"><rect x="358.1" y="1263.3" width="118.4" height="223.7" fill="#000"/><circle cx="418" cy="1375" r="2.8" fill="rgb(51,51,51)"/><circle cx="417.5" cy="1403" r="2.8" fill="rgb(51,51,51)"/><path d="M414.5,1307 L413,1314 L414.5,1320" fill="none" stroke="rgb(97,97,97)" stroke-width="5.5" stroke-linecap="round" stroke-linejoin="round"/><path d="M416,1325 L419,1340" fill="none" stroke="rgb(158,158,158)" stroke-width="7.5" stroke-linecap="round" stroke-linejoin="round"/><path d="M416,1355 L420,1369" fill="none" stroke="rgb(158,158,158)" stroke-width="7.5" stroke-linecap="round" stroke-linejoin="round"/><circle cx="416" cy="1296" r="2.5" fill="rgb(204,204,204)"/><circle cx="412" cy="1293" r="2" fill="rgb(217,217,217)"/><ellipse cx="420" cy="1294" rx="13" ry="10.5" transform="rotate(0 420 1294)" fill="rgb(255,255,255)"/></g><path d="M418,1341 L418,1353" fill="none" stroke="#3c3c3c" stroke-width="2.2" stroke-linecap="round" stroke-linejoin="round"/><path d="M418,1372 L418,1414 C418,1422 419,1430 423,1439 C426,1445 431,1451 431,1455 C430,1460 426,1466 421,1471" fill="none" stroke="#3c3c3c" stroke-width="2.3" stroke-linecap="round" stroke-linejoin="round"/></g>
<clipPath id="cp10"><rect x="475.6" y="1269.3" width="106.4" height="211.7"/></clipPath>
<g clip-path="url(#cp10)"><g filter="url(#heat)"><rect x="469.6" y="1263.3" width="118.4" height="223.7" fill="#000"/><path d="M517,1450 L517,1455" fill="none" stroke="rgb(76,76,76)" stroke-width="6" stroke-linecap="round" stroke-linejoin="round"/><path d="M519,1316 C518,1324 519,1332 524,1340 C527,1346 525,1352 523,1358 C521,1364 519,1372 519,1380 C520,1390 522,1396 522,1402 C522,1410 521,1416 521,1424 C521,1432 521,1440 520,1446 C519,1450 518,1453 517,1455" fill="none" stroke="rgb(128,128,128)" stroke-width="8" stroke-linecap="round" stroke-linejoin="round"/><circle cx="524" cy="1358" r="3.5" fill="rgb(153,153,153)"/><circle cx="518.7" cy="1383" r="3.5" fill="rgb(153,153,153)"/><circle cx="521.3" cy="1421" r="3.5" fill="rgb(153,153,153)"/><path d="M519,1318 C518,1326 520,1334 524,1342" fill="none" stroke="rgb(168,168,168)" stroke-width="10" stroke-linecap="round" stroke-linejoin="round"/><circle cx="525.5" cy="1344.5" r="4" fill="rgb(168,168,168)"/><path d="M520,1313 C516,1302 524,1296 533,1296 C543,1296 550,1302 550,1310 C550,1316 548,1320 547,1321" fill="none" stroke="rgb(168,168,168)" stroke-width="13.5" stroke-linecap="round" stroke-linejoin="round"/><circle cx="520.6" cy="1443" r="3.5" fill="rgb(178,178,178)"/><circle cx="544" cy="1302" r="3" fill="rgb(189,189,189)"/><circle cx="532" cy="1298" r="3.5" fill="rgb(194,194,194)"/></g></g>
<clipPath id="cp11"><rect x="587" y="1269.3" width="106.4" height="211.7"/></clipPath>
<g clip-path="url(#cp11)"><g filter="url(#heat)"><rect x="581" y="1263.3" width="118.4" height="223.7" fill="#000"/><path d="M633,1309 C632,1300 640,1297 648,1298 C655,1299 659,1304 657,1309 C656,1312 654,1313 653.8,1313" fill="none" stroke="rgb(48,48,48)" stroke-width="10" stroke-linecap="round" stroke-linejoin="round"/><path d="M633,1438 L634.5,1452" fill="none" stroke="rgb(64,64,64)" stroke-width="7" stroke-linecap="round" stroke-linejoin="round"/><path d="M636.5,1311 C634,1316 633,1320 635,1326 C638,1332 641,1336 640,1342 C638,1348 633,1354 631,1360 C630,1366 632,1372 635,1376 C637,1381 635,1388 631,1394 C629,1400 629,1408 631,1414 C633,1420 633,1428 633.5,1436 C634,1444 634.5,1448 634.5,1452" fill="none" stroke="rgb(89,89,89)" stroke-width="8" stroke-linecap="round" stroke-linejoin="round"/><path d="M637,1340 C636,1346 632,1352 631,1360 C630,1366 632,1372 635,1378 C637,1382 635,1388 631,1394 C629,1400 629,1408 631,1414 C633,1420 633,1424 633,1426" fill="none" stroke="rgb(158,158,158)" stroke-width="8" stroke-linecap="round" stroke-linejoin="round"/><ellipse cx="631" cy="1398" rx="3" ry="5" transform="rotate(0 631 1398)" fill="rgb(204,204,204)"/><circle cx="635.1" cy="1375.1" r="2.5" fill="rgb(242,242,242)"/></g></g>
<rect x="714.5" y="1097.5" width="6" height="358.75" fill="url(#cbar)" stroke="none" stroke-width="0" />
<line x1="720.5" y1="1105" x2="723.3" y2="1105" stroke="#777" stroke-width="0.6" />
<line x1="720.5" y1="1126.9" x2="723.3" y2="1126.9" stroke="#777" stroke-width="0.6" />
<line x1="720.5" y1="1148.8" x2="723.3" y2="1148.8" stroke="#777" stroke-width="0.6" />
<line x1="720.5" y1="1170.7" x2="723.3" y2="1170.7" stroke="#777" stroke-width="0.6" />
<line x1="720.5" y1="1192.6" x2="723.3" y2="1192.6" stroke="#777" stroke-width="0.6" />
<line x1="720.5" y1="1214.5" x2="723.3" y2="1214.5" stroke="#777" stroke-width="0.6" />
<line x1="720.5" y1="1236.4" x2="723.3" y2="1236.4" stroke="#777" stroke-width="0.6" />
<line x1="720.5" y1="1258.3" x2="723.3" y2="1258.3" stroke="#777" stroke-width="0.6" />
<line x1="720.5" y1="1280.2" x2="723.3" y2="1280.2" stroke="#777" stroke-width="0.6" />
<line x1="720.5" y1="1302.1" x2="723.3" y2="1302.1" stroke="#777" stroke-width="0.6" />
<line x1="720.5" y1="1324" x2="723.3" y2="1324" stroke="#777" stroke-width="0.6" />
<line x1="720.5" y1="1345.9" x2="723.3" y2="1345.9" stroke="#777" stroke-width="0.6" />
<line x1="720.5" y1="1367.8" x2="723.3" y2="1367.8" stroke="#777" stroke-width="0.6" />
<line x1="720.5" y1="1389.7" x2="723.3" y2="1389.7" stroke="#777" stroke-width="0.6" />
<line x1="720.5" y1="1411.6" x2="723.3" y2="1411.6" stroke="#777" stroke-width="0.6" />
<line x1="720.5" y1="1433.5" x2="723.3" y2="1433.5" stroke="#777" stroke-width="0.6" />
<text x="726.5" y="1171.7" font-size="6.8" text-anchor="start" fill="#333" font-family="Liberation Serif">6.0</text>
<text x="726.5" y="1280.95" font-size="6.8" text-anchor="start" fill="#333" font-family="Liberation Serif">4.0</text>
<text x="726.5" y="1390.45" font-size="6.8" text-anchor="start" fill="#333" font-family="Liberation Serif">2.0</text>
<text x="742.5" y="1277.5" font-size="7.2" fill="#333" font-family="Liberation Serif">x10<tspan font-size="5.5" dy="-3">8</tspan></text>
<text x="747.5" y="1050.4" font-size="30.5" text-anchor="start" fill="#000" >G</text>
<line x1="849.4" y1="1141.6" x2="849.4" y2="1369" stroke="#000" stroke-width="2" />
<line x1="848.4" y1="1368" x2="1187.5" y2="1368" stroke="#000" stroke-width="2" />
<line x1="841.3" y1="1368" x2="849.4" y2="1368" stroke="#000" stroke-width="2" />
<line x1="841.3" y1="1311.65" x2="849.4" y2="1311.65" stroke="#000" stroke-width="2" />
<line x1="841.3" y1="1255.3" x2="849.4" y2="1255.3" stroke="#000" stroke-width="2" />
<line x1="841.3" y1="1198.95" x2="849.4" y2="1198.95" stroke="#000" stroke-width="2" />
<line x1="841.3" y1="1142.6" x2="849.4" y2="1142.6" stroke="#000" stroke-width="2" />
<text x="840.5" y="1160.4" font-size="19.5" text-anchor="end">2×10<tspan font-size="13.26" dy="-8">7</tspan></text>
<text x="840.5" y="1213" font-size="19.5" text-anchor="end">1.5×10<tspan font-size="13.26" dy="-8">7</tspan></text>
<text x="840.5" y="1268.8" font-size="19.5" text-anchor="end">1×10<tspan font-size="13.26" dy="-8">7</tspan></text>
<text x="840.5" y="1322.5" font-size="19.5" text-anchor="end">5×10<tspan font-size="13.26" dy="-8">6</tspan></text>
<text x="839.3" y="1375.1" font-size="19.5" text-anchor="end" fill="#000" >0</text>
<line x1="849.4" y1="1368" x2="849.4" y2="1376" stroke="#000" stroke-width="2" />
<text x="850.9" y="1397" font-size="20.5" text-anchor="middle" fill="#000" >0</text>
<line x1="916.9" y1="1368" x2="916.9" y2="1376" stroke="#000" stroke-width="2" />
<text x="918.4" y="1397" font-size="20.5" text-anchor="middle" fill="#000" >5</text>
<line x1="984.4" y1="1368" x2="984.4" y2="1376" stroke="#000" stroke-width="2" />
<text x="985.9" y="1397" font-size="20.5" text-anchor="middle" fill="#000" >10</text>
<line x1="1051.9" y1="1368" x2="1051.9" y2="1376" stroke="#000" stroke-width="2" />
<text x="1053.4" y="1397" font-size="20.5" text-anchor="middle" fill="#000" >15</text>
<line x1="1119.4" y1="1368" x2="1119.4" y2="1376" stroke="#000" stroke-width="2" />
<text x="1120.9" y="1397" font-size="20.5" text-anchor="middle" fill="#000" >20</text>
<line x1="1186.9" y1="1368" x2="1186.9" y2="1376" stroke="#000" stroke-width="2" />
<text x="1188.4" y="1397" font-size="20.5" text-anchor="middle" fill="#000" >25</text>
<text x="970" y="1422.5" font-size="20.5" text-anchor="start" fill="#000" >Time</text>
<text x="1016.5" y="1421.5" font-size="18" text-anchor="start" fill="#000" >(</text>
<text x="1025.5" y="1422" font-size="18.5" text-anchor="start" fill="#000" >h</text>
<text x="1040.5" y="1421.5" font-size="18" text-anchor="start" fill="#000" >)</text>
<text transform="translate(776.5,1246.4) rotate(-90)" x="0" y="0" font-size="21" text-anchor="middle" fill="#000" >Avg Fl.Intensity(x107a.u.)</text>
<line x1="876.4" y1="1287" x2="876.4" y2="1297" stroke="#111" stroke-width="2" />
<line x1="871.4" y1="1287" x2="881.4" y2="1287" stroke="#111" stroke-width="2" />
<line x1="871.4" y1="1297" x2="881.4" y2="1297" stroke="#111" stroke-width="2" />
<line x1="903.4" y1="1191.4" x2="903.4" y2="1214" stroke="#111" stroke-width="2" />
<line x1="898.4" y1="1191.4" x2="908.4" y2="1191.4" stroke="#111" stroke-width="2" />
<line x1="898.4" y1="1214" x2="908.4" y2="1214" stroke="#111" stroke-width="2" />
<line x1="957.4" y1="1189" x2="957.4" y2="1224.6" stroke="#111" stroke-width="2" />
<line x1="952.4" y1="1189" x2="962.4" y2="1189" stroke="#111" stroke-width="2" />
<line x1="952.4" y1="1224.6" x2="962.4" y2="1224.6" stroke="#111" stroke-width="2" />
<line x1="1011.4" y1="1217" x2="1011.4" y2="1235" stroke="#111" stroke-width="2" />
<line x1="1006.4" y1="1217" x2="1016.4" y2="1217" stroke="#111" stroke-width="2" />
<line x1="1006.4" y1="1235" x2="1016.4" y2="1235" stroke="#111" stroke-width="2" />
<line x1="876.4" y1="1252" x2="876.4" y2="1268.8" stroke="#1d4a5e" stroke-width="2" />
<line x1="871.4" y1="1252" x2="881.4" y2="1252" stroke="#1d4a5e" stroke-width="2" />
<line x1="871.4" y1="1268.8" x2="881.4" y2="1268.8" stroke="#1d4a5e" stroke-width="2" />
<line x1="903.4" y1="1156.3" x2="903.4" y2="1179.2" stroke="#1d4a5e" stroke-width="2" />
<line x1="898.4" y1="1156.3" x2="908.4" y2="1156.3" stroke="#1d4a5e" stroke-width="2" />
<line x1="898.4" y1="1179.2" x2="908.4" y2="1179.2" stroke="#1d4a5e" stroke-width="2" />
<line x1="957.4" y1="1170.4" x2="957.4" y2="1195.4" stroke="#1d4a5e" stroke-width="2" />
<line x1="952.4" y1="1170.4" x2="962.4" y2="1170.4" stroke="#1d4a5e" stroke-width="2" />
<line x1="952.4" y1="1195.4" x2="962.4" y2="1195.4" stroke="#1d4a5e" stroke-width="2" />
<line x1="1011.4" y1="1177.9" x2="1011.4" y2="1204.6" stroke="#1d4a5e" stroke-width="2" />
<line x1="1006.4" y1="1177.9" x2="1016.4" y2="1177.9" stroke="#1d4a5e" stroke-width="2" />
<line x1="1006.4" y1="1204.6" x2="1016.4" y2="1204.6" stroke="#1d4a5e" stroke-width="2" />
<line x1="1173.4" y1="1221.7" x2="1173.4" y2="1232" stroke="#1d4a5e" stroke-width="2" />
<line x1="1168.4" y1="1221.7" x2="1178.4" y2="1221.7" stroke="#1d4a5e" stroke-width="2" />
<line x1="1168.4" y1="1232" x2="1178.4" y2="1232" stroke="#1d4a5e" stroke-width="2" />
<path d="M856.15,1299.2 L876.4,1260.7 L903.4,1168.5 L957.4,1182.9 L1011.4,1191.25 L1173.4,1226.7" fill="none" stroke="#f6c443" stroke-width="2" />
<path d="M856.15,1331.2 L876.4,1292 L903.4,1203 L957.4,1207 L1011.4,1225.8 L1173.4,1245.4" fill="none" stroke="#1f6499" stroke-width="2" />
<rect x="851.25" y="1294.3" width="9.8" height="9.8" fill="#f6c443" stroke="none" stroke-width="0" />
<rect x="871.5" y="1255.8" width="9.8" height="9.8" fill="#f6c443" stroke="none" stroke-width="0" />
<rect x="898.5" y="1163.6" width="9.8" height="9.8" fill="#f6c443" stroke="none" stroke-width="0" />
<rect x="952.5" y="1178" width="9.8" height="9.8" fill="#f6c443" stroke="none" stroke-width="0" />
<rect x="1006.5" y="1186.35" width="9.8" height="9.8" fill="#f6c443" stroke="none" stroke-width="0" />
<rect x="1168.5" y="1221.8" width="9.8" height="9.8" fill="#f6c443" stroke="none" stroke-width="0" />
<circle cx="856.15" cy="1331.2" r="5" fill="#1f6499" />
<circle cx="876.4" cy="1292" r="5" fill="#1f6499" />
<circle cx="903.4" cy="1203" r="5" fill="#1f6499" />
<circle cx="957.4" cy="1207" r="5" fill="#1f6499" />
<circle cx="1011.4" cy="1225.8" r="5" fill="#1f6499" />
<circle cx="1173.4" cy="1245.4" r="5" fill="#1f6499" />
<line x1="1073.4" y1="1151.9" x2="1097.9" y2="1151.9" stroke="#1f6499" stroke-width="2" />
<circle cx="1085.7" cy="1151.9" r="4.8" fill="#1f6499" />
<text x="1112.3" y="1157.9" font-size="18.7" text-anchor="start" fill="#000" >P@Rut</text>
<line x1="1073.4" y1="1182" x2="1097.9" y2="1182" stroke="#f6c443" stroke-width="2" />
<rect x="1080.9" y="1177.2" width="9.6" height="9.6" fill="#f6c443" stroke="none" stroke-width="0" />
<text x="1112.3" y="1188.2" font-size="18.7" text-anchor="start" fill="#000" >PP@Rut</text>
</svg>
</body></html>
